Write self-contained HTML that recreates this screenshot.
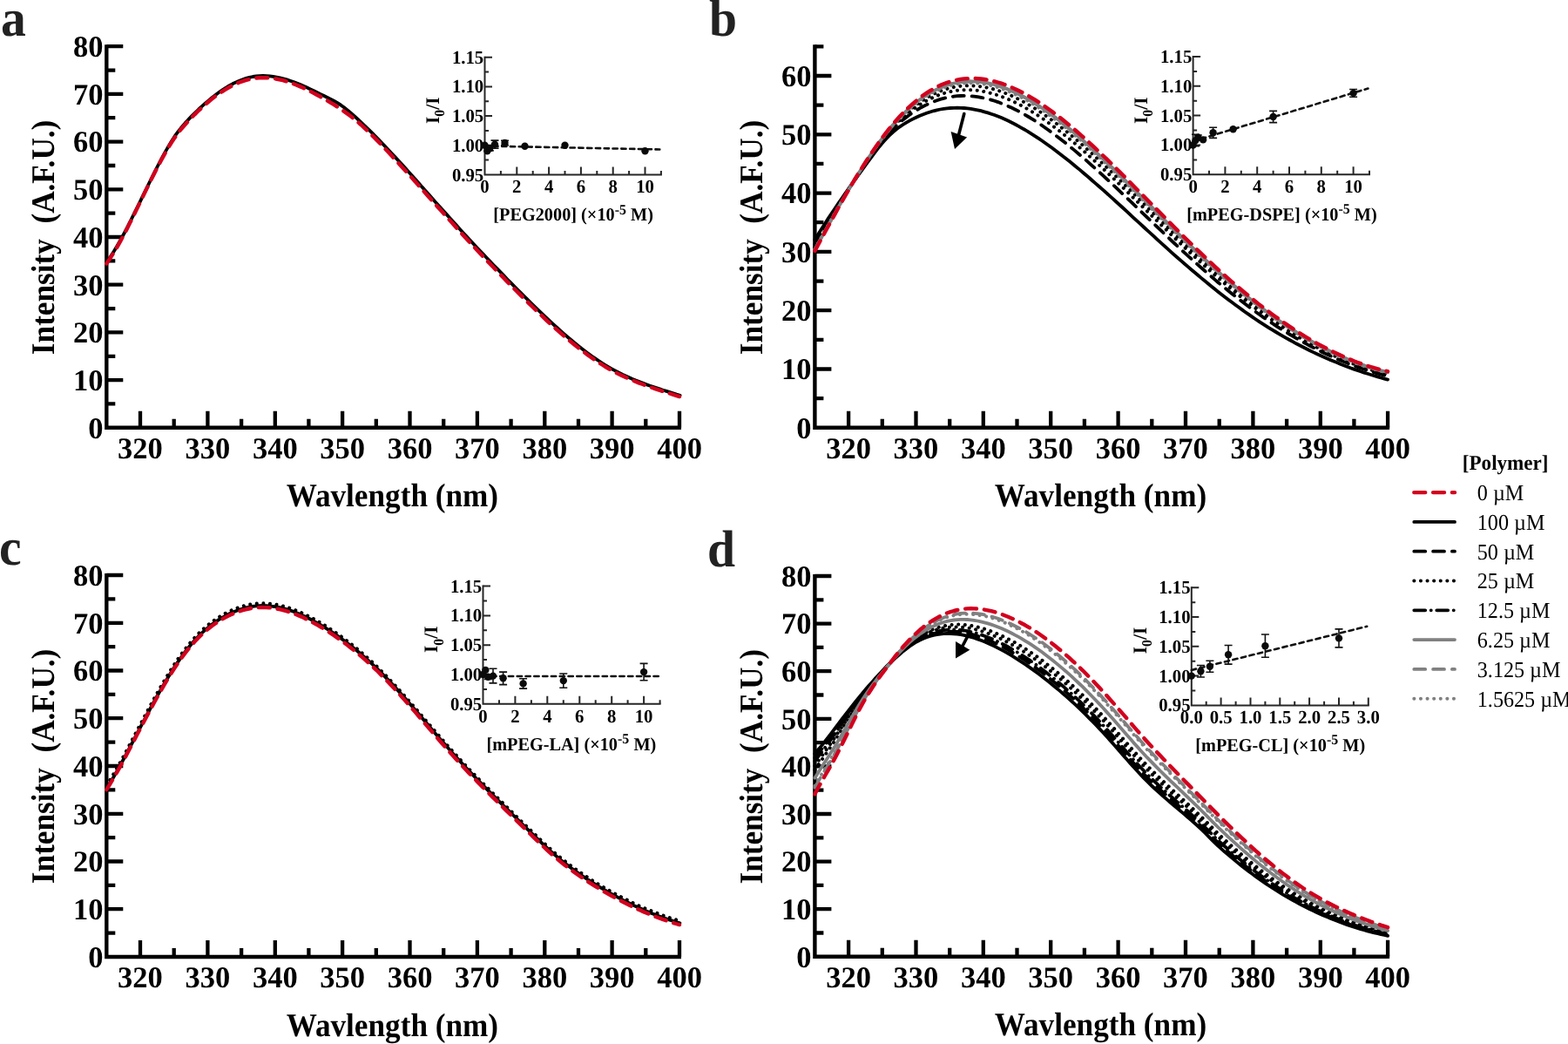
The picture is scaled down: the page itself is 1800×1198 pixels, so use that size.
<!DOCTYPE html>
<html><head><meta charset="utf-8"><style>
html,body{margin:0;padding:0;background:#fff;}
svg{display:block;}
text{font-family:'Liberation Serif', 'Times New Roman', serif;text-rendering:geometricPrecision;}
.tl{font-size:34.5px;font-weight:bold;fill:#000;}
.ti{font-size:37.8px;font-weight:bold;fill:#000;}
.let{font-size:60px;font-weight:bold;fill:#222;}
.il{font-size:21.5px;font-weight:bold;fill:#000;}
.it{font-size:21.1px;font-weight:bold;fill:#000;}
.lg{font-size:25.8px;fill:#000;}
</style></head><body>
<svg width="1800" height="1198" viewBox="0 0 1800 1198">
<rect width="1800" height="1198" fill="#fff"/>
<path d="M122.3,51.2 V490.8 H782.0" fill="none" stroke="#000" stroke-width="4.4" stroke-linejoin="miter"/>
<text transform="translate(118.50,502.60)" text-anchor="end" class="tl">0</text>
<text transform="translate(118.50,447.90)" text-anchor="end" class="tl">10</text>
<text transform="translate(118.50,393.20)" text-anchor="end" class="tl">20</text>
<text transform="translate(118.50,338.50)" text-anchor="end" class="tl">30</text>
<text transform="translate(118.50,283.80)" text-anchor="end" class="tl">40</text>
<text transform="translate(118.50,229.10)" text-anchor="end" class="tl">50</text>
<text transform="translate(118.50,174.40)" text-anchor="end" class="tl">60</text>
<text transform="translate(118.50,119.70)" text-anchor="end" class="tl">70</text>
<text transform="translate(118.50,65.00)" text-anchor="end" class="tl">80</text>
<text transform="translate(160.99,526.10)" text-anchor="middle" class="tl">320</text>
<text transform="translate(238.37,526.10)" text-anchor="middle" class="tl">330</text>
<text transform="translate(315.75,526.10)" text-anchor="middle" class="tl">340</text>
<text transform="translate(393.13,526.10)" text-anchor="middle" class="tl">350</text>
<text transform="translate(470.51,526.10)" text-anchor="middle" class="tl">360</text>
<text transform="translate(547.89,526.10)" text-anchor="middle" class="tl">370</text>
<text transform="translate(625.27,526.10)" text-anchor="middle" class="tl">380</text>
<text transform="translate(702.65,526.10)" text-anchor="middle" class="tl">390</text>
<text transform="translate(780.03,526.10)" text-anchor="middle" class="tl">400</text>
<path d="M122.3,463.4h10 M122.3,436.1h19 M122.3,408.8h10 M122.3,381.4h19 M122.3,354.1h10 M122.3,326.7h19 M122.3,299.4h10 M122.3,272.0h19 M122.3,244.7h10 M122.3,217.3h19 M122.3,190.0h10 M122.3,162.6h19 M122.3,135.2h10 M122.3,107.9h19 M122.3,80.6h10 M122.3,53.2h19 M161.0,490.8v-19 M199.7,490.8v-10 M238.4,490.8v-19 M277.1,490.8v-10 M315.8,490.8v-19 M354.4,490.8v-10 M393.1,490.8v-19 M431.8,490.8v-10 M470.5,490.8v-19 M509.2,490.8v-10 M547.9,490.8v-19 M586.6,490.8v-10 M625.3,490.8v-19 M664.0,490.8v-10 M702.6,490.8v-19 M741.3,490.8v-10 M780.0,490.8v-19" stroke="#000" stroke-width="4.3" fill="none"/>
<text transform="translate(450.36,581.40) scale(0.931,1.0)" text-anchor="middle" class="ti">Wavlength (nm)</text>
<text transform="translate(62.30,272.40) rotate(-90) scale(0.931,1.0)" text-anchor="middle" class="ti" xml:space="preserve">Intensity  (A.F.U.)</text>
<text transform="translate(1.00,40.90) scale(0.96,1.0)" class="let">a</text>
<path d="M122.3,301.4 L126.2,295.6 L130.1,289.5 L134.0,283.0 L137.9,276.1 L141.8,269.0 L145.7,261.6 L149.5,254.0 L153.4,246.2 L157.3,238.3 L161.2,230.4 L165.1,222.4 L169.0,214.4 L172.9,206.5 L176.8,198.7 L180.7,191.0 L184.6,183.6 L188.5,176.4 L192.4,169.6 L196.2,163.2 L200.1,157.2 L204.0,151.9 L207.9,147.0 L211.8,142.4 L215.7,138.2 L219.6,134.2 L223.5,130.3 L227.4,126.5 L231.3,122.9 L235.2,119.4 L239.1,116.1 L242.9,112.9 L246.8,109.9 L250.7,107.0 L254.6,104.3 L258.5,101.8 L262.4,99.5 L266.3,97.3 L270.2,95.4 L274.1,93.7 L278.0,92.2 L281.9,90.9 L285.8,89.9 L289.7,89.0 L293.5,88.5 L297.4,88.1 L301.3,88.0 L305.2,88.1 L309.1,88.4 L313.0,88.8 L316.9,89.5 L320.8,90.3 L324.7,91.3 L328.6,92.4 L332.5,93.7 L336.4,95.0 L340.2,96.5 L344.1,98.1 L348.0,99.8 L351.9,101.6 L355.8,103.4 L359.7,105.3 L363.6,107.2 L367.5,109.1 L371.4,111.0 L375.3,113.0 L379.2,114.9 L383.1,117.0 L386.9,119.2 L390.8,121.7 L394.7,124.6 L398.6,127.7 L402.5,131.0 L406.4,134.4 L410.3,138.0 L414.2,141.6 L418.1,145.3 L422.0,149.1 L425.9,152.9 L429.8,156.8 L433.7,160.8 L437.5,164.8 L441.4,168.9 L445.3,173.0 L449.2,177.2 L453.1,181.4 L457.0,185.6 L460.9,189.9 L464.8,194.1 L468.7,198.5 L472.6,202.8 L476.5,207.1 L480.4,211.5 L484.2,215.9 L488.1,220.2 L492.0,224.6 L495.9,229.0 L499.8,233.4 L503.7,237.7 L507.6,242.1 L511.5,246.4 L515.4,250.8 L519.3,255.1 L523.2,259.4 L527.1,263.7 L530.9,267.9 L534.8,272.1 L538.7,276.3 L542.6,280.5 L546.5,284.7 L550.4,288.8 L554.3,292.9 L558.2,297.0 L562.1,301.1 L566.0,305.2 L569.9,309.2 L573.8,313.2 L577.7,317.2 L581.5,321.2 L585.4,325.2 L589.3,329.1 L593.2,333.0 L597.1,336.9 L601.0,340.8 L604.9,344.7 L608.8,348.5 L612.7,352.3 L616.6,356.1 L620.5,359.9 L624.4,363.6 L628.2,367.2 L632.1,370.9 L636.0,374.5 L639.9,378.0 L643.8,381.5 L647.7,384.9 L651.6,388.2 L655.5,391.5 L659.4,394.7 L663.3,397.9 L667.2,401.0 L671.1,403.9 L674.9,406.9 L678.8,409.7 L682.7,412.4 L686.6,415.0 L690.5,417.6 L694.4,420.0 L698.3,422.4 L702.2,424.6 L706.1,426.7 L710.0,428.7 L713.9,430.7 L717.8,432.5 L721.7,434.3 L725.5,436.0 L729.4,437.6 L733.3,439.1 L737.2,440.6 L741.1,442.1 L745.0,443.5 L748.9,444.8 L752.8,446.1 L756.7,447.4 L760.6,448.7 L764.5,449.9 L768.4,451.1 L772.2,452.3 L776.1,453.6 L780.0,454.8" fill="none" stroke="#000" stroke-width="3.8" stroke-linecap="round" stroke-linejoin="round" stroke-width="5" transform="translate(0.6,-1)"/>
<path d="M122.3,302.4 L126.2,296.8 L130.1,290.7 L134.0,284.2 L137.9,277.3 L141.8,270.2 L145.7,262.7 L149.5,255.1 L153.4,247.3 L157.3,239.4 L161.2,231.4 L165.1,223.3 L169.0,215.4 L172.9,207.4 L176.8,199.7 L180.7,192.1 L184.6,184.7 L188.5,177.6 L192.4,170.8 L196.2,164.5 L200.1,158.6 L204.0,153.2 L207.9,148.2 L211.8,143.7 L215.7,139.4 L219.6,135.3 L223.5,131.3 L227.4,127.5 L231.3,123.9 L235.2,120.4 L239.1,117.0 L242.9,113.8 L246.8,110.8 L250.7,108.0 L254.6,105.3 L258.5,102.8 L262.4,100.5 L266.3,98.4 L270.2,96.5 L274.1,94.8 L278.0,93.4 L281.9,92.1 L285.8,91.1 L289.7,90.2 L293.5,89.6 L297.4,89.3 L301.3,89.1 L305.2,89.2 L309.1,89.4 L313.0,89.9 L316.9,90.5 L320.8,91.3 L324.7,92.2 L328.6,93.3 L332.5,94.6 L336.4,96.0 L340.2,97.5 L344.1,99.1 L348.0,100.8 L351.9,102.7 L355.8,104.6 L359.7,106.6 L363.6,108.7 L367.5,110.8 L371.4,113.0 L375.3,115.3 L379.2,117.6 L383.1,119.9 L386.9,122.4 L390.8,124.9 L394.7,127.6 L398.6,130.4 L402.5,133.3 L406.4,136.4 L410.3,139.6 L414.2,143.0 L418.1,146.6 L422.0,150.3 L425.9,154.1 L429.8,157.9 L433.7,161.9 L437.5,165.9 L441.4,170.0 L445.3,174.1 L449.2,178.3 L453.1,182.5 L457.0,186.7 L460.9,191.0 L464.8,195.2 L468.7,199.5 L472.6,203.9 L476.5,208.2 L480.4,212.6 L484.2,216.9 L488.1,221.3 L492.0,225.7 L495.9,230.0 L499.8,234.4 L503.7,238.8 L507.6,243.1 L511.5,247.5 L515.4,251.8 L519.3,256.1 L523.2,260.4 L527.1,264.7 L530.9,269.0 L534.8,273.2 L538.7,277.4 L542.6,281.6 L546.5,285.8 L550.4,289.9 L554.3,294.1 L558.2,298.2 L562.1,302.3 L566.0,306.3 L569.9,310.4 L573.8,314.4 L577.7,318.4 L581.5,322.4 L585.4,326.4 L589.3,330.3 L593.2,334.2 L597.1,338.1 L601.0,342.0 L604.9,345.8 L608.8,349.7 L612.7,353.5 L616.6,357.2 L620.5,360.9 L624.4,364.6 L628.2,368.3 L632.1,371.9 L636.0,375.4 L639.9,378.9 L643.8,382.4 L647.7,385.7 L651.6,389.1 L655.5,392.3 L659.4,395.5 L663.3,398.6 L667.2,401.6 L671.1,404.6 L674.9,407.5 L678.8,410.2 L682.7,412.9 L686.6,415.5 L690.5,418.0 L694.4,420.5 L698.3,422.8 L702.2,425.0 L706.1,427.1 L710.0,429.1 L713.9,431.0 L717.8,432.8 L721.7,434.5 L725.5,436.2 L729.4,437.8 L733.3,439.4 L737.2,440.8 L741.1,442.3 L745.0,443.7 L748.9,445.0 L752.8,446.3 L756.7,447.6 L760.6,448.9 L764.5,450.1 L768.4,451.4 L772.2,452.6 L776.1,453.8 L780.0,455.1" fill="none" stroke="#d2001e" stroke-width="4.4" stroke-linecap="round" stroke-linejoin="round" stroke-dasharray="12.9 8.9"/>
<path d="M935.4,51.3 V490.8 H1595.1" fill="none" stroke="#000" stroke-width="4.4" stroke-linejoin="miter"/>
<text transform="translate(931.60,502.60)" text-anchor="end" class="tl">0</text>
<text transform="translate(931.60,435.30)" text-anchor="end" class="tl">10</text>
<text transform="translate(931.60,368.00)" text-anchor="end" class="tl">20</text>
<text transform="translate(931.60,300.70)" text-anchor="end" class="tl">30</text>
<text transform="translate(931.60,233.40)" text-anchor="end" class="tl">40</text>
<text transform="translate(931.60,166.10)" text-anchor="end" class="tl">50</text>
<text transform="translate(931.60,98.80)" text-anchor="end" class="tl">60</text>
<text transform="translate(974.09,526.10)" text-anchor="middle" class="tl">320</text>
<text transform="translate(1051.47,526.10)" text-anchor="middle" class="tl">330</text>
<text transform="translate(1128.85,526.10)" text-anchor="middle" class="tl">340</text>
<text transform="translate(1206.23,526.10)" text-anchor="middle" class="tl">350</text>
<text transform="translate(1283.61,526.10)" text-anchor="middle" class="tl">360</text>
<text transform="translate(1360.99,526.10)" text-anchor="middle" class="tl">370</text>
<text transform="translate(1438.37,526.10)" text-anchor="middle" class="tl">380</text>
<text transform="translate(1515.75,526.10)" text-anchor="middle" class="tl">390</text>
<text transform="translate(1593.13,526.10)" text-anchor="middle" class="tl">400</text>
<path d="M935.4,457.1h10 M935.4,423.5h19 M935.4,389.9h10 M935.4,356.2h19 M935.4,322.6h10 M935.4,288.9h19 M935.4,255.2h10 M935.4,221.6h19 M935.4,187.9h10 M935.4,154.3h19 M935.4,120.6h10 M935.4,87.0h19 M935.4,53.3h10 M974.1,490.8v-19 M1012.8,490.8v-10 M1051.5,490.8v-19 M1090.2,490.8v-10 M1128.8,490.8v-19 M1167.5,490.8v-10 M1206.2,490.8v-19 M1244.9,490.8v-10 M1283.6,490.8v-19 M1322.3,490.8v-10 M1361.0,490.8v-19 M1399.7,490.8v-10 M1438.4,490.8v-19 M1477.1,490.8v-10 M1515.8,490.8v-19 M1554.4,490.8v-10 M1593.1,490.8v-19" stroke="#000" stroke-width="4.3" fill="none"/>
<text transform="translate(1263.47,581.40) scale(0.931,1.0)" text-anchor="middle" class="ti">Wavlength (nm)</text>
<text transform="translate(875.40,272.47) rotate(-90) scale(0.931,1.0)" text-anchor="middle" class="ti" xml:space="preserve">Intensity  (A.F.U.)</text>
<text transform="translate(814.00,41.10) scale(0.96,1.0)" class="let">b</text>
<path d="M935.4,275.0 L939.3,268.7 L943.2,262.5 L947.1,256.4 L951.0,250.4 L954.9,244.6 L958.8,238.8 L962.6,233.1 L966.5,227.5 L970.4,221.9 L974.3,216.4 L978.2,210.9 L982.1,205.4 L986.0,200.0 L989.9,194.6 L993.8,189.1 L997.7,183.8 L1001.6,178.5 L1005.5,173.4 L1009.3,168.4 L1013.2,163.8 L1017.1,159.4 L1021.0,155.4 L1024.9,151.8 L1028.8,148.6 L1032.7,145.6 L1036.6,143.0 L1040.5,140.6 L1044.4,138.4 L1048.3,136.4 L1052.2,134.5 L1056.0,132.8 L1059.9,131.2 L1063.8,129.8 L1067.7,128.5 L1071.6,127.3 L1075.5,126.3 L1079.4,125.5 L1083.3,124.8 L1087.2,124.3 L1091.1,124.0 L1095.0,123.8 L1098.9,123.7 L1102.8,123.8 L1106.6,124.0 L1110.5,124.4 L1114.4,124.9 L1118.3,125.6 L1122.2,126.3 L1126.1,127.2 L1130.0,128.3 L1133.9,129.4 L1137.8,130.7 L1141.7,132.0 L1145.6,133.5 L1149.5,135.1 L1153.3,136.8 L1157.2,138.6 L1161.1,140.5 L1165.0,142.5 L1168.9,144.6 L1172.8,146.8 L1176.7,149.0 L1180.6,151.4 L1184.5,153.8 L1188.4,156.3 L1192.3,158.9 L1196.2,161.5 L1200.0,164.2 L1203.9,167.0 L1207.8,169.8 L1211.7,172.7 L1215.6,175.7 L1219.5,178.7 L1223.4,181.7 L1227.3,184.8 L1231.2,188.0 L1235.1,191.2 L1239.0,194.4 L1242.9,197.7 L1246.8,201.0 L1250.6,204.3 L1254.5,207.7 L1258.4,211.1 L1262.3,214.5 L1266.2,217.9 L1270.1,221.4 L1274.0,224.9 L1277.9,228.4 L1281.8,232.0 L1285.7,235.5 L1289.6,239.0 L1293.5,242.6 L1297.3,246.2 L1301.2,249.8 L1305.1,253.3 L1309.0,256.9 L1312.9,260.5 L1316.8,264.1 L1320.7,267.6 L1324.6,271.2 L1328.5,274.8 L1332.4,278.3 L1336.3,281.8 L1340.2,285.3 L1344.0,288.8 L1347.9,292.3 L1351.8,295.7 L1355.7,299.1 L1359.6,302.5 L1363.5,305.9 L1367.4,309.2 L1371.3,312.5 L1375.2,315.8 L1379.1,319.1 L1383.0,322.3 L1386.9,325.5 L1390.8,328.7 L1394.6,331.8 L1398.5,334.9 L1402.4,337.9 L1406.3,340.9 L1410.2,343.9 L1414.1,346.8 L1418.0,349.7 L1421.9,352.6 L1425.8,355.4 L1429.7,358.2 L1433.6,360.9 L1437.5,363.6 L1441.3,366.2 L1445.2,368.8 L1449.1,371.3 L1453.0,373.8 L1456.9,376.3 L1460.8,378.7 L1464.7,381.0 L1468.6,383.3 L1472.5,385.6 L1476.4,387.8 L1480.3,390.0 L1484.2,392.2 L1488.0,394.3 L1491.9,396.3 L1495.8,398.3 L1499.7,400.3 L1503.6,402.2 L1507.5,404.1 L1511.4,405.9 L1515.3,407.7 L1519.2,409.5 L1523.1,411.2 L1527.0,412.9 L1530.9,414.5 L1534.8,416.1 L1538.6,417.7 L1542.5,419.2 L1546.4,420.7 L1550.3,422.2 L1554.2,423.6 L1558.1,424.9 L1562.0,426.3 L1565.9,427.6 L1569.8,428.8 L1573.7,430.0 L1577.6,431.2 L1581.5,432.4 L1585.3,433.5 L1589.2,434.6 L1593.1,435.6" fill="none" stroke="#000" stroke-width="3.8" stroke-linecap="round" stroke-linejoin="round"/>
<path d="M935.4,280.4 L939.3,273.7 L943.2,267.1 L947.1,260.6 L951.0,254.1 L954.9,247.7 L958.8,241.4 L962.6,235.2 L966.5,229.0 L970.4,222.9 L974.3,216.9 L978.2,211.0 L982.1,205.1 L986.0,199.2 L989.9,193.4 L993.8,187.7 L997.7,182.1 L1001.6,176.6 L1005.5,171.2 L1009.3,166.1 L1013.2,161.1 L1017.1,156.5 L1021.0,152.1 L1024.9,148.0 L1028.8,144.2 L1032.7,140.7 L1036.6,137.4 L1040.5,134.4 L1044.4,131.5 L1048.3,128.9 L1052.2,126.4 L1056.0,124.1 L1059.9,122.0 L1063.8,120.1 L1067.7,118.3 L1071.6,116.6 L1075.5,115.2 L1079.4,113.9 L1083.3,112.9 L1087.2,111.9 L1091.1,111.2 L1095.0,110.6 L1098.9,110.2 L1102.8,110.0 L1106.6,109.9 L1110.5,110.0 L1114.4,110.2 L1118.3,110.6 L1122.2,111.1 L1126.1,111.8 L1130.0,112.6 L1133.9,113.5 L1137.8,114.6 L1141.7,115.8 L1145.6,117.1 L1149.5,118.6 L1153.3,120.1 L1157.2,121.8 L1161.1,123.6 L1165.0,125.5 L1168.9,127.4 L1172.8,129.5 L1176.7,131.7 L1180.6,134.0 L1184.5,136.4 L1188.4,138.8 L1192.3,141.4 L1196.2,144.0 L1200.0,146.7 L1203.9,149.5 L1207.8,152.3 L1211.7,155.2 L1215.6,158.2 L1219.5,161.2 L1223.4,164.3 L1227.3,167.4 L1231.2,170.6 L1235.1,173.9 L1239.0,177.2 L1242.9,180.5 L1246.8,183.9 L1250.6,187.3 L1254.5,190.8 L1258.4,194.3 L1262.3,197.8 L1266.2,201.4 L1270.1,205.0 L1274.0,208.6 L1277.9,212.2 L1281.8,215.9 L1285.7,219.6 L1289.6,223.3 L1293.5,227.0 L1297.3,230.7 L1301.2,234.4 L1305.1,238.1 L1309.0,241.9 L1312.9,245.6 L1316.8,249.4 L1320.7,253.1 L1324.6,256.8 L1328.5,260.5 L1332.4,264.2 L1336.3,267.9 L1340.2,271.6 L1344.0,275.3 L1347.9,279.0 L1351.8,282.6 L1355.7,286.2 L1359.6,289.8 L1363.5,293.4 L1367.4,296.9 L1371.3,300.4 L1375.2,303.9 L1379.1,307.4 L1383.0,310.8 L1386.9,314.2 L1390.8,317.5 L1394.6,320.9 L1398.5,324.2 L1402.4,327.4 L1406.3,330.6 L1410.2,333.8 L1414.1,336.9 L1418.0,340.0 L1421.9,343.1 L1425.8,346.1 L1429.7,349.1 L1433.6,352.0 L1437.5,354.9 L1441.3,357.7 L1445.2,360.5 L1449.1,363.3 L1453.0,365.9 L1456.9,368.6 L1460.8,371.2 L1464.7,373.8 L1468.6,376.3 L1472.5,378.7 L1476.4,381.2 L1480.3,383.5 L1484.2,385.9 L1488.0,388.1 L1491.9,390.4 L1495.8,392.6 L1499.7,394.7 L1503.6,396.8 L1507.5,398.8 L1511.4,400.8 L1515.3,402.8 L1519.2,404.7 L1523.1,406.5 L1527.0,408.3 L1530.9,410.1 L1534.8,411.8 L1538.6,413.5 L1542.5,415.1 L1546.4,416.6 L1550.3,418.2 L1554.2,419.6 L1558.1,421.1 L1562.0,422.4 L1565.9,423.8 L1569.8,425.0 L1573.7,426.3 L1577.6,427.4 L1581.5,428.6 L1585.3,429.6 L1589.2,430.7 L1593.1,431.7" fill="none" stroke="#000" stroke-width="3.8" stroke-linecap="round" stroke-linejoin="round" stroke-dasharray="12.9 8.9"/>
<path d="M935.4,283.0 L939.3,276.1 L943.2,269.3 L947.1,262.5 L951.0,255.9 L954.9,249.2 L958.8,242.7 L962.6,236.2 L966.5,229.8 L970.4,223.4 L974.3,217.2 L978.2,211.0 L982.1,204.9 L986.0,198.8 L989.9,192.9 L993.8,187.0 L997.7,181.3 L1001.6,175.7 L1005.5,170.2 L1009.3,164.9 L1013.2,159.9 L1017.1,155.0 L1021.0,150.5 L1024.9,146.2 L1028.8,142.1 L1032.7,138.3 L1036.6,134.8 L1040.5,131.4 L1044.4,128.3 L1048.3,125.4 L1052.2,122.6 L1056.0,120.0 L1059.9,117.6 L1063.8,115.4 L1067.7,113.4 L1071.6,111.6 L1075.5,109.9 L1079.4,108.4 L1083.3,107.1 L1087.2,106.0 L1091.1,105.1 L1095.0,104.4 L1098.9,103.8 L1102.8,103.4 L1106.6,103.2 L1110.5,103.1 L1114.4,103.2 L1118.3,103.5 L1122.2,103.9 L1126.1,104.4 L1130.0,105.1 L1133.9,106.0 L1137.8,107.0 L1141.7,108.1 L1145.6,109.3 L1149.5,110.7 L1153.3,112.2 L1157.2,113.8 L1161.1,115.5 L1165.0,117.3 L1168.9,119.3 L1172.8,121.3 L1176.7,123.5 L1180.6,125.7 L1184.5,128.1 L1188.4,130.5 L1192.3,133.0 L1196.2,135.6 L1200.0,138.3 L1203.9,141.1 L1207.8,143.9 L1211.7,146.8 L1215.6,149.8 L1219.5,152.9 L1223.4,156.0 L1227.3,159.1 L1231.2,162.3 L1235.1,165.6 L1239.0,168.9 L1242.9,172.3 L1246.8,175.7 L1250.6,179.2 L1254.5,182.7 L1258.4,186.3 L1262.3,189.9 L1266.2,193.5 L1270.1,197.1 L1274.0,200.8 L1277.9,204.5 L1281.8,208.2 L1285.7,212.0 L1289.6,215.7 L1293.5,219.5 L1297.3,223.3 L1301.2,227.1 L1305.1,230.9 L1309.0,234.7 L1312.9,238.5 L1316.8,242.3 L1320.7,246.2 L1324.6,250.0 L1328.5,253.8 L1332.4,257.6 L1336.3,261.3 L1340.2,265.1 L1344.0,268.9 L1347.9,272.6 L1351.8,276.3 L1355.7,280.0 L1359.6,283.7 L1363.5,287.4 L1367.4,291.0 L1371.3,294.6 L1375.2,298.2 L1379.1,301.8 L1383.0,305.3 L1386.9,308.8 L1390.8,312.2 L1394.6,315.7 L1398.5,319.1 L1402.4,322.4 L1406.3,325.7 L1410.2,329.0 L1414.1,332.2 L1418.0,335.4 L1421.9,338.6 L1425.8,341.7 L1429.7,344.8 L1433.6,347.8 L1437.5,350.8 L1441.3,353.7 L1445.2,356.6 L1449.1,359.4 L1453.0,362.2 L1456.9,365.0 L1460.8,367.7 L1464.7,370.3 L1468.6,372.9 L1472.5,375.5 L1476.4,378.0 L1480.3,380.4 L1484.2,382.9 L1488.0,385.2 L1491.9,387.5 L1495.8,389.8 L1499.7,392.0 L1503.6,394.2 L1507.5,396.3 L1511.4,398.4 L1515.3,400.4 L1519.2,402.4 L1523.1,404.3 L1527.0,406.2 L1530.9,408.0 L1534.8,409.7 L1538.6,411.4 L1542.5,413.1 L1546.4,414.7 L1550.3,416.3 L1554.2,417.8 L1558.1,419.2 L1562.0,420.6 L1565.9,421.9 L1569.8,423.2 L1573.7,424.5 L1577.6,425.6 L1581.5,426.8 L1585.3,427.8 L1589.2,428.8 L1593.1,429.8" fill="none" stroke="#000" stroke-width="4.0" stroke-linecap="round" stroke-linejoin="round" stroke-dasharray="0.1 7.5"/>
<path d="M935.4,284.8 L939.3,277.8 L943.2,270.8 L947.1,263.9 L951.0,257.1 L954.9,250.3 L958.8,243.6 L962.6,236.9 L966.5,230.3 L970.4,223.8 L974.3,217.4 L978.2,211.0 L982.1,204.8 L986.0,198.6 L989.9,192.5 L993.8,186.6 L997.7,180.7 L1001.6,175.0 L1005.5,169.5 L1009.3,164.1 L1013.2,159.0 L1017.1,154.0 L1021.0,149.3 L1024.9,144.9 L1028.8,140.7 L1032.7,136.7 L1036.6,132.9 L1040.5,129.4 L1044.4,126.0 L1048.3,122.9 L1052.2,119.9 L1056.0,117.2 L1059.9,114.6 L1063.8,112.2 L1067.7,110.0 L1071.6,108.0 L1075.5,106.2 L1079.4,104.6 L1083.3,103.1 L1087.2,101.9 L1091.1,100.9 L1095.0,100.0 L1098.9,99.3 L1102.8,98.8 L1106.6,98.5 L1110.5,98.3 L1114.4,98.3 L1118.3,98.5 L1122.2,98.8 L1126.1,99.3 L1130.0,99.9 L1133.9,100.7 L1137.8,101.6 L1141.7,102.6 L1145.6,103.8 L1149.5,105.1 L1153.3,106.6 L1157.2,108.2 L1161.1,109.8 L1165.0,111.7 L1168.9,113.6 L1172.8,115.6 L1176.7,117.7 L1180.6,120.0 L1184.5,122.3 L1188.4,124.7 L1192.3,127.2 L1196.2,129.8 L1200.0,132.5 L1203.9,135.2 L1207.8,138.1 L1211.7,141.0 L1215.6,144.0 L1219.5,147.0 L1223.4,150.1 L1227.3,153.3 L1231.2,156.6 L1235.1,159.9 L1239.0,163.2 L1242.9,166.6 L1246.8,170.1 L1250.6,173.6 L1254.5,177.1 L1258.4,180.7 L1262.3,184.3 L1266.2,188.0 L1270.1,191.6 L1274.0,195.4 L1277.9,199.1 L1281.8,202.9 L1285.7,206.7 L1289.6,210.5 L1293.5,214.3 L1297.3,218.1 L1301.2,222.0 L1305.1,225.8 L1309.0,229.7 L1312.9,233.6 L1316.8,237.4 L1320.7,241.3 L1324.6,245.2 L1328.5,249.0 L1332.4,252.9 L1336.3,256.7 L1340.2,260.5 L1344.0,264.4 L1347.9,268.2 L1351.8,271.9 L1355.7,275.7 L1359.6,279.5 L1363.5,283.2 L1367.4,286.9 L1371.3,290.6 L1375.2,294.2 L1379.1,297.9 L1383.0,301.5 L1386.9,305.0 L1390.8,308.5 L1394.6,312.0 L1398.5,315.5 L1402.4,318.9 L1406.3,322.3 L1410.2,325.6 L1414.1,328.9 L1418.0,332.2 L1421.9,335.4 L1425.8,338.6 L1429.7,341.7 L1433.6,344.8 L1437.5,347.9 L1441.3,350.9 L1445.2,353.8 L1449.1,356.7 L1453.0,359.6 L1456.9,362.4 L1460.8,365.2 L1464.7,367.9 L1468.6,370.6 L1472.5,373.2 L1476.4,375.8 L1480.3,378.3 L1484.2,380.8 L1488.0,383.2 L1491.9,385.6 L1495.8,387.9 L1499.7,390.2 L1503.6,392.4 L1507.5,394.6 L1511.4,396.7 L1515.3,398.8 L1519.2,400.8 L1523.1,402.7 L1527.0,404.6 L1530.9,406.5 L1534.8,408.3 L1538.6,410.0 L1542.5,411.7 L1546.4,413.4 L1550.3,414.9 L1554.2,416.5 L1558.1,417.9 L1562.0,419.3 L1565.9,420.7 L1569.8,422.0 L1573.7,423.2 L1577.6,424.4 L1581.5,425.5 L1585.3,426.5 L1589.2,427.5 L1593.1,428.5" fill="none" stroke="#000" stroke-width="4.0" stroke-linecap="round" stroke-linejoin="round" stroke-dasharray="0.1 7.5"/>
<path d="M935.4,286.0 L939.3,278.9 L943.2,271.8 L947.1,264.8 L951.0,257.9 L954.9,251.0 L958.8,244.1 L962.6,237.3 L966.5,230.6 L970.4,224.0 L974.3,217.5 L978.2,211.0 L982.1,204.7 L986.0,198.4 L989.9,192.3 L993.8,186.3 L997.7,180.4 L1001.6,174.6 L1005.5,169.0 L1009.3,163.6 L1013.2,158.4 L1017.1,153.4 L1021.0,148.6 L1024.9,144.1 L1028.8,139.7 L1032.7,135.6 L1036.6,131.7 L1040.5,128.0 L1044.4,124.5 L1048.3,121.3 L1052.2,118.2 L1056.0,115.3 L1059.9,112.6 L1063.8,110.1 L1067.7,107.8 L1071.6,105.7 L1075.5,103.8 L1079.4,102.1 L1083.3,100.6 L1087.2,99.3 L1091.1,98.1 L1095.0,97.2 L1098.9,96.4 L1102.8,95.9 L1106.6,95.5 L1110.5,95.2 L1114.4,95.2 L1118.3,95.3 L1122.2,95.6 L1126.1,96.0 L1130.0,96.6 L1133.9,97.3 L1137.8,98.2 L1141.7,99.2 L1145.6,100.3 L1149.5,101.6 L1153.3,103.0 L1157.2,104.6 L1161.1,106.2 L1165.0,108.0 L1168.9,109.9 L1172.8,111.9 L1176.7,114.0 L1180.6,116.2 L1184.5,118.5 L1188.4,121.0 L1192.3,123.5 L1196.2,126.0 L1200.0,128.7 L1203.9,131.5 L1207.8,134.3 L1211.7,137.2 L1215.6,140.2 L1219.5,143.3 L1223.4,146.4 L1227.3,149.6 L1231.2,152.8 L1235.1,156.1 L1239.0,159.5 L1242.9,162.9 L1246.8,166.4 L1250.6,169.9 L1254.5,173.5 L1258.4,177.1 L1262.3,180.7 L1266.2,184.4 L1270.1,188.1 L1274.0,191.9 L1277.9,195.6 L1281.8,199.4 L1285.7,203.3 L1289.6,207.1 L1293.5,210.9 L1297.3,214.8 L1301.2,218.7 L1305.1,222.6 L1309.0,226.5 L1312.9,230.4 L1316.8,234.3 L1320.7,238.2 L1324.6,242.1 L1328.5,246.0 L1332.4,249.9 L1336.3,253.7 L1340.2,257.6 L1344.0,261.5 L1347.9,265.3 L1351.8,269.1 L1355.7,272.9 L1359.6,276.7 L1363.5,280.5 L1367.4,284.3 L1371.3,288.0 L1375.2,291.7 L1379.1,295.3 L1383.0,299.0 L1386.9,302.6 L1390.8,306.2 L1394.6,309.7 L1398.5,313.2 L1402.4,316.7 L1406.3,320.1 L1410.2,323.5 L1414.1,326.8 L1418.0,330.1 L1421.9,333.4 L1425.8,336.6 L1429.7,339.8 L1433.6,342.9 L1437.5,346.0 L1441.3,349.0 L1445.2,352.0 L1449.1,355.0 L1453.0,357.9 L1456.9,360.8 L1460.8,363.6 L1464.7,366.3 L1468.6,369.0 L1472.5,371.7 L1476.4,374.3 L1480.3,376.9 L1484.2,379.4 L1488.0,381.9 L1491.9,384.3 L1495.8,386.7 L1499.7,389.0 L1503.6,391.2 L1507.5,393.4 L1511.4,395.6 L1515.3,397.7 L1519.2,399.7 L1523.1,401.7 L1527.0,403.7 L1530.9,405.5 L1534.8,407.4 L1538.6,409.1 L1542.5,410.8 L1546.4,412.5 L1550.3,414.1 L1554.2,415.6 L1558.1,417.1 L1562.0,418.5 L1565.9,419.9 L1569.8,421.1 L1573.7,422.4 L1577.6,423.6 L1581.5,424.7 L1585.3,425.7 L1589.2,426.7 L1593.1,427.6" fill="none" stroke="#808080" stroke-width="4.0" stroke-linecap="round" stroke-linejoin="round" stroke-dasharray="0.1 7.5"/>
<path d="M935.4,286.6 L939.3,279.5 L943.2,272.4 L947.1,265.3 L951.0,258.3 L954.9,251.3 L958.8,244.4 L962.6,237.6 L966.5,230.8 L970.4,224.1 L974.3,217.5 L978.2,211.0 L982.1,204.6 L986.0,198.3 L989.9,192.2 L993.8,186.1 L997.7,180.2 L1001.6,174.4 L1005.5,168.8 L1009.3,163.3 L1013.2,158.1 L1017.1,153.0 L1021.0,148.2 L1024.9,143.6 L1028.8,139.2 L1032.7,135.0 L1036.6,131.1 L1040.5,127.3 L1044.4,123.7 L1048.3,120.4 L1052.2,117.2 L1056.0,114.3 L1059.9,111.5 L1063.8,109.0 L1067.7,106.6 L1071.6,104.4 L1075.5,102.5 L1079.4,100.7 L1083.3,99.1 L1087.2,97.8 L1091.1,96.6 L1095.0,95.6 L1098.9,94.8 L1102.8,94.2 L1106.6,93.8 L1110.5,93.5 L1114.4,93.4 L1118.3,93.5 L1122.2,93.7 L1126.1,94.1 L1130.0,94.7 L1133.9,95.4 L1137.8,96.2 L1141.7,97.2 L1145.6,98.4 L1149.5,99.6 L1153.3,101.0 L1157.2,102.6 L1161.1,104.2 L1165.0,106.0 L1168.9,107.9 L1172.8,109.8 L1176.7,112.0 L1180.6,114.2 L1184.5,116.5 L1188.4,118.9 L1192.3,121.4 L1196.2,124.0 L1200.0,126.6 L1203.9,129.4 L1207.8,132.2 L1211.7,135.1 L1215.6,138.1 L1219.5,141.2 L1223.4,144.3 L1227.3,147.5 L1231.2,150.8 L1235.1,154.1 L1239.0,157.5 L1242.9,160.9 L1246.8,164.4 L1250.6,167.9 L1254.5,171.5 L1258.4,175.1 L1262.3,178.7 L1266.2,182.4 L1270.1,186.2 L1274.0,189.9 L1277.9,193.7 L1281.8,197.5 L1285.7,201.4 L1289.6,205.2 L1293.5,209.1 L1297.3,213.0 L1301.2,216.9 L1305.1,220.8 L1309.0,224.7 L1312.9,228.6 L1316.8,232.5 L1320.7,236.4 L1324.6,240.4 L1328.5,244.3 L1332.4,248.2 L1336.3,252.1 L1340.2,256.0 L1344.0,259.9 L1347.9,263.7 L1351.8,267.6 L1355.7,271.4 L1359.6,275.2 L1363.5,279.0 L1367.4,282.8 L1371.3,286.5 L1375.2,290.3 L1379.1,293.9 L1383.0,297.6 L1386.9,301.2 L1390.8,304.8 L1394.6,308.4 L1398.5,311.9 L1402.4,315.4 L1406.3,318.9 L1410.2,322.3 L1414.1,325.6 L1418.0,329.0 L1421.9,332.3 L1425.8,335.5 L1429.7,338.7 L1433.6,341.9 L1437.5,345.0 L1441.3,348.0 L1445.2,351.1 L1449.1,354.0 L1453.0,357.0 L1456.9,359.8 L1460.8,362.7 L1464.7,365.5 L1468.6,368.2 L1472.5,370.9 L1476.4,373.5 L1480.3,376.1 L1484.2,378.7 L1488.0,381.2 L1491.9,383.6 L1495.8,386.0 L1499.7,388.3 L1503.6,390.6 L1507.5,392.8 L1511.4,395.0 L1515.3,397.1 L1519.2,399.2 L1523.1,401.2 L1527.0,403.1 L1530.9,405.0 L1534.8,406.8 L1538.6,408.6 L1542.5,410.3 L1546.4,412.0 L1550.3,413.6 L1554.2,415.1 L1558.1,416.6 L1562.0,418.0 L1565.9,419.4 L1569.8,420.7 L1573.7,421.9 L1577.6,423.1 L1581.5,424.2 L1585.3,425.3 L1589.2,426.2 L1593.1,427.2" fill="none" stroke="#808080" stroke-width="3.8" stroke-linecap="round" stroke-linejoin="round" stroke-dasharray="12.9 8.9"/>
<path d="M935.4,286.6 L939.3,279.5 L943.2,272.4 L947.1,265.3 L951.0,258.3 L954.9,251.3 L958.8,244.4 L962.6,237.6 L966.5,230.8 L970.4,224.1 L974.3,217.5 L978.2,211.0 L982.1,204.6 L986.0,198.3 L989.9,192.2 L993.8,186.1 L997.7,180.2 L1001.6,174.4 L1005.5,168.8 L1009.3,163.3 L1013.2,158.1 L1017.1,153.0 L1021.0,148.2 L1024.9,143.6 L1028.8,139.2 L1032.7,135.0 L1036.6,131.1 L1040.5,127.3 L1044.4,123.7 L1048.3,120.4 L1052.2,117.2 L1056.0,114.3 L1059.9,111.5 L1063.8,109.0 L1067.7,106.6 L1071.6,104.4 L1075.5,102.5 L1079.4,100.7 L1083.3,99.1 L1087.2,97.8 L1091.1,96.6 L1095.0,95.6 L1098.9,94.8 L1102.8,94.2 L1106.6,93.8 L1110.5,93.5 L1114.4,93.4 L1118.3,93.5 L1122.2,93.7 L1126.1,94.1 L1130.0,94.7 L1133.9,95.4 L1137.8,96.2 L1141.7,97.2 L1145.6,98.4 L1149.5,99.6 L1153.3,101.0 L1157.2,102.6 L1161.1,104.2 L1165.0,106.0 L1168.9,107.9 L1172.8,109.8 L1176.7,112.0 L1180.6,114.2 L1184.5,116.5 L1188.4,118.9 L1192.3,121.4 L1196.2,124.0 L1200.0,126.6 L1203.9,129.4 L1207.8,132.2 L1211.7,135.1 L1215.6,138.1 L1219.5,141.2 L1223.4,144.3 L1227.3,147.5 L1231.2,150.8 L1235.1,154.1 L1239.0,157.5 L1242.9,160.9 L1246.8,164.4 L1250.6,167.9 L1254.5,171.5 L1258.4,175.1 L1262.3,178.7 L1266.2,182.4 L1270.1,186.2 L1274.0,189.9 L1277.9,193.7 L1281.8,197.5 L1285.7,201.4 L1289.6,205.2 L1293.5,209.1 L1297.3,213.0 L1301.2,216.9 L1305.1,220.8 L1309.0,224.7 L1312.9,228.6 L1316.8,232.5 L1320.7,236.4 L1324.6,240.4 L1328.5,244.3 L1332.4,248.2 L1336.3,252.1 L1340.2,256.0 L1344.0,259.9 L1347.9,263.7 L1351.8,267.6 L1355.7,271.4 L1359.6,275.2 L1363.5,279.0 L1367.4,282.8 L1371.3,286.5 L1375.2,290.3 L1379.1,293.9 L1383.0,297.6 L1386.9,301.2 L1390.8,304.8 L1394.6,308.4 L1398.5,311.9 L1402.4,315.4 L1406.3,318.9 L1410.2,322.3 L1414.1,325.6 L1418.0,329.0 L1421.9,332.3 L1425.8,335.5 L1429.7,338.7 L1433.6,341.9 L1437.5,345.0 L1441.3,348.0 L1445.2,351.1 L1449.1,354.0 L1453.0,357.0 L1456.9,359.8 L1460.8,362.7 L1464.7,365.5 L1468.6,368.2 L1472.5,370.9 L1476.4,373.5 L1480.3,376.1 L1484.2,378.7 L1488.0,381.2 L1491.9,383.6 L1495.8,386.0 L1499.7,388.3 L1503.6,390.6 L1507.5,392.8 L1511.4,395.0 L1515.3,397.1 L1519.2,399.2 L1523.1,401.2 L1527.0,403.1 L1530.9,405.0 L1534.8,406.8 L1538.6,408.6 L1542.5,410.3 L1546.4,412.0 L1550.3,413.6 L1554.2,415.1 L1558.1,416.6 L1562.0,418.0 L1565.9,419.4 L1569.8,420.7 L1573.7,421.9 L1577.6,423.1 L1581.5,424.2 L1585.3,425.3 L1589.2,426.2 L1593.1,427.2" fill="none" stroke="#808080" stroke-width="3.8" stroke-linecap="round" stroke-linejoin="round"/>
<path d="M935.4,287.9 L939.3,280.7 L943.2,273.5 L947.1,266.3 L951.0,259.2 L954.9,252.1 L958.8,245.1 L962.6,238.1 L966.5,231.2 L970.4,224.4 L974.3,217.7 L978.2,211.0 L982.1,204.5 L986.0,198.1 L989.9,191.9 L993.8,185.8 L997.7,179.8 L1001.6,173.9 L1005.5,168.3 L1009.3,162.8 L1013.2,157.5 L1017.1,152.3 L1021.0,147.4 L1024.9,142.7 L1028.8,138.2 L1032.7,133.8 L1036.6,129.7 L1040.5,125.8 L1044.4,122.1 L1048.3,118.6 L1052.2,115.3 L1056.0,112.2 L1059.9,109.3 L1063.8,106.6 L1067.7,104.2 L1071.6,101.9 L1075.5,99.8 L1079.4,97.9 L1083.3,96.3 L1087.2,94.8 L1091.1,93.6 L1095.0,92.5 L1098.9,91.6 L1102.8,90.9 L1106.6,90.4 L1110.5,90.1 L1114.4,89.9 L1118.3,89.9 L1122.2,90.1 L1126.1,90.5 L1130.0,91.0 L1133.9,91.6 L1137.8,92.4 L1141.7,93.4 L1145.6,94.5 L1149.5,95.7 L1153.3,97.0 L1157.2,98.5 L1161.1,100.2 L1165.0,101.9 L1168.9,103.8 L1172.8,105.7 L1176.7,107.8 L1180.6,110.0 L1184.5,112.3 L1188.4,114.7 L1192.3,117.2 L1196.2,119.8 L1200.0,122.5 L1203.9,125.2 L1207.8,128.0 L1211.7,131.0 L1215.6,134.0 L1219.5,137.0 L1223.4,140.2 L1227.3,143.4 L1231.2,146.6 L1235.1,150.0 L1239.0,153.4 L1242.9,156.8 L1246.8,160.3 L1250.6,163.8 L1254.5,167.4 L1258.4,171.1 L1262.3,174.8 L1266.2,178.5 L1270.1,182.2 L1274.0,186.0 L1277.9,189.8 L1281.8,193.7 L1285.7,197.6 L1289.6,201.5 L1293.5,205.4 L1297.3,209.3 L1301.2,213.2 L1305.1,217.2 L1309.0,221.1 L1312.9,225.1 L1316.8,229.0 L1320.7,233.0 L1324.6,236.9 L1328.5,240.9 L1332.4,244.8 L1336.3,248.8 L1340.2,252.7 L1344.0,256.6 L1347.9,260.5 L1351.8,264.4 L1355.7,268.3 L1359.6,272.2 L1363.5,276.0 L1367.4,279.8 L1371.3,283.6 L1375.2,287.4 L1379.1,291.2 L1383.0,294.9 L1386.9,298.5 L1390.8,302.2 L1394.6,305.8 L1398.5,309.4 L1402.4,312.9 L1406.3,316.4 L1410.2,319.9 L1414.1,323.3 L1418.0,326.7 L1421.9,330.0 L1425.8,333.3 L1429.7,336.5 L1433.6,339.7 L1437.5,342.9 L1441.3,346.0 L1445.2,349.1 L1449.1,352.1 L1453.0,355.1 L1456.9,358.0 L1460.8,360.9 L1464.7,363.7 L1468.6,366.5 L1472.5,369.3 L1476.4,371.9 L1480.3,374.6 L1484.2,377.2 L1488.0,379.7 L1491.9,382.2 L1495.8,384.6 L1499.7,387.0 L1503.6,389.3 L1507.5,391.6 L1511.4,393.8 L1515.3,395.9 L1519.2,398.0 L1523.1,400.0 L1527.0,402.0 L1530.9,403.9 L1534.8,405.8 L1538.6,407.6 L1542.5,409.4 L1546.4,411.0 L1550.3,412.6 L1554.2,414.2 L1558.1,415.7 L1562.0,417.1 L1565.9,418.5 L1569.8,419.8 L1573.7,421.0 L1577.6,422.2 L1581.5,423.3 L1585.3,424.3 L1589.2,425.3 L1593.1,426.2" fill="none" stroke="#d2001e" stroke-width="4.4" stroke-linecap="round" stroke-linejoin="round" stroke-dasharray="12.9 8.9"/>
<path d="M1106.8,130.5 L1100.5,155" stroke="#000" stroke-width="3.6" stroke-linecap="round" fill="none"/>
<path d="M1091.6,151.1 L1110.1,157.6 L1096,171 Z" fill="#000"/>
<path d="M122.3,658.0 V1098.0 H782.0" fill="none" stroke="#000" stroke-width="4.4" stroke-linejoin="miter"/>
<text transform="translate(118.50,1109.80)" text-anchor="end" class="tl">0</text>
<text transform="translate(118.50,1055.05)" text-anchor="end" class="tl">10</text>
<text transform="translate(118.50,1000.30)" text-anchor="end" class="tl">20</text>
<text transform="translate(118.50,945.55)" text-anchor="end" class="tl">30</text>
<text transform="translate(118.50,890.80)" text-anchor="end" class="tl">40</text>
<text transform="translate(118.50,836.05)" text-anchor="end" class="tl">50</text>
<text transform="translate(118.50,781.30)" text-anchor="end" class="tl">60</text>
<text transform="translate(118.50,726.55)" text-anchor="end" class="tl">70</text>
<text transform="translate(118.50,671.80)" text-anchor="end" class="tl">80</text>
<text transform="translate(160.99,1133.30)" text-anchor="middle" class="tl">320</text>
<text transform="translate(238.37,1133.30)" text-anchor="middle" class="tl">330</text>
<text transform="translate(315.75,1133.30)" text-anchor="middle" class="tl">340</text>
<text transform="translate(393.13,1133.30)" text-anchor="middle" class="tl">350</text>
<text transform="translate(470.51,1133.30)" text-anchor="middle" class="tl">360</text>
<text transform="translate(547.89,1133.30)" text-anchor="middle" class="tl">370</text>
<text transform="translate(625.27,1133.30)" text-anchor="middle" class="tl">380</text>
<text transform="translate(702.65,1133.30)" text-anchor="middle" class="tl">390</text>
<text transform="translate(780.03,1133.30)" text-anchor="middle" class="tl">400</text>
<path d="M122.3,1070.6h10 M122.3,1043.2h19 M122.3,1015.9h10 M122.3,988.5h19 M122.3,961.1h10 M122.3,933.8h19 M122.3,906.4h10 M122.3,879.0h19 M122.3,851.6h10 M122.3,824.2h19 M122.3,796.9h10 M122.3,769.5h19 M122.3,742.1h10 M122.3,714.8h19 M122.3,687.4h10 M122.3,660.0h19 M161.0,1098.0v-19 M199.7,1098.0v-10 M238.4,1098.0v-19 M277.1,1098.0v-10 M315.8,1098.0v-19 M354.4,1098.0v-10 M393.1,1098.0v-19 M431.8,1098.0v-10 M470.5,1098.0v-19 M509.2,1098.0v-10 M547.9,1098.0v-19 M586.6,1098.0v-10 M625.3,1098.0v-19 M664.0,1098.0v-10 M702.6,1098.0v-19 M741.3,1098.0v-10 M780.0,1098.0v-19" stroke="#000" stroke-width="4.3" fill="none"/>
<text transform="translate(450.36,1188.60) scale(0.931,1.0)" text-anchor="middle" class="ti">Wavlength (nm)</text>
<text transform="translate(62.30,879.40) rotate(-90) scale(0.931,1.0)" text-anchor="middle" class="ti" xml:space="preserve">Intensity  (A.F.U.)</text>
<text transform="translate(-1.00,648.00) scale(0.96,1.0)" class="let">c</text>
<path d="M122.3,904.8 L126.2,898.5 L130.1,892.0 L134.0,885.2 L137.9,878.2 L141.8,871.1 L145.7,863.9 L149.5,856.6 L153.4,849.2 L157.3,841.8 L161.2,834.3 L165.1,826.9 L169.0,819.6 L172.9,812.3 L176.8,805.1 L180.7,798.1 L184.6,791.2 L188.5,784.6 L192.4,778.1 L196.2,771.8 L200.1,765.7 L204.0,759.9 L207.9,754.4 L211.8,749.1 L215.7,744.1 L219.6,739.3 L223.5,734.9 L227.4,730.8 L231.3,727.0 L235.2,723.5 L239.1,720.2 L242.9,717.2 L246.8,714.4 L250.7,711.8 L254.6,709.4 L258.5,707.2 L262.4,705.2 L266.3,703.4 L270.2,701.8 L274.1,700.3 L278.0,699.1 L281.9,698.0 L285.8,697.1 L289.7,696.5 L293.5,696.0 L297.4,695.7 L301.3,695.6 L305.2,695.7 L309.1,696.0 L313.0,696.4 L316.9,697.0 L320.8,697.8 L324.7,698.7 L328.6,699.8 L332.5,701.0 L336.4,702.4 L340.2,703.9 L344.1,705.5 L348.0,707.3 L351.9,709.1 L355.8,711.1 L359.7,713.2 L363.6,715.4 L367.5,717.6 L371.4,720.0 L375.3,722.4 L379.2,724.9 L383.1,727.5 L386.9,730.2 L390.8,733.0 L394.7,735.8 L398.6,738.8 L402.5,741.8 L406.4,744.9 L410.3,748.1 L414.2,751.4 L418.1,754.7 L422.0,758.2 L425.9,761.8 L429.8,765.4 L433.7,769.1 L437.5,773.0 L441.4,776.9 L445.3,780.9 L449.2,785.0 L453.1,789.2 L457.0,793.5 L460.9,797.8 L464.8,802.2 L468.7,806.6 L472.6,811.1 L476.5,815.6 L480.4,820.1 L484.2,824.6 L488.1,829.2 L492.0,833.7 L495.9,838.3 L499.8,842.8 L503.7,847.3 L507.6,851.8 L511.5,856.2 L515.4,860.6 L519.3,865.0 L523.2,869.3 L527.1,873.5 L530.9,877.7 L534.8,881.9 L538.7,886.0 L542.6,890.0 L546.5,894.1 L550.4,898.0 L554.3,902.0 L558.2,905.9 L562.1,909.8 L566.0,913.7 L569.9,917.5 L573.8,921.4 L577.7,925.2 L581.5,929.0 L585.4,932.8 L589.3,936.6 L593.2,940.4 L597.1,944.2 L601.0,948.1 L604.9,951.9 L608.8,955.7 L612.7,959.5 L616.6,963.2 L620.5,966.9 L624.4,970.6 L628.2,974.2 L632.1,977.7 L636.0,981.1 L639.9,984.5 L643.8,987.7 L647.7,990.8 L651.6,993.8 L655.5,996.8 L659.4,999.6 L663.3,1002.4 L667.2,1005.1 L671.1,1007.7 L674.9,1010.3 L678.8,1012.8 L682.7,1015.3 L686.6,1017.7 L690.5,1020.0 L694.4,1022.3 L698.3,1024.5 L702.2,1026.7 L706.1,1028.8 L710.0,1030.9 L713.9,1033.0 L717.8,1035.0 L721.7,1036.9 L725.5,1038.8 L729.4,1040.7 L733.3,1042.4 L737.2,1044.2 L741.1,1045.9 L745.0,1047.5 L748.9,1049.1 L752.8,1050.6 L756.7,1052.1 L760.6,1053.5 L764.5,1054.9 L768.4,1056.2 L772.2,1057.4 L776.1,1058.6 L780.0,1059.8" fill="none" stroke="#000" stroke-width="3.8" stroke-linecap="round" stroke-linejoin="round" stroke-width="5" transform="translate(0.4,-0.6)"/>
<path d="M122.3,901.5 L126.2,895.2 L130.1,888.7 L134.0,881.9 L137.9,875.0 L141.8,867.9 L145.7,860.6 L149.5,853.3 L153.4,845.9 L157.3,838.5 L161.2,831.1 L165.1,823.7 L169.0,816.3 L172.9,809.0 L176.8,801.9 L180.7,794.8 L184.6,788.0 L188.5,781.3 L192.4,774.8 L196.2,768.5 L200.1,762.5 L204.0,756.6 L207.9,751.1 L211.8,745.8 L215.7,740.8 L219.6,736.1 L223.5,731.7 L227.4,727.5 L231.3,723.7 L235.2,720.2 L239.1,716.9 L242.9,713.9 L246.8,711.1 L250.7,708.5 L254.6,706.1 L258.5,703.9 L262.4,701.9 L266.3,700.1 L270.2,698.5 L274.1,697.0 L278.0,695.8 L281.9,694.7 L285.8,693.8 L289.7,693.2 L293.5,692.7 L297.4,692.4 L301.3,692.3 L305.2,692.4 L309.1,692.7 L313.0,693.1 L316.9,693.7 L320.8,694.5 L324.7,695.5 L328.6,696.5 L332.5,697.8 L336.4,699.1 L340.2,700.6 L344.1,702.2 L348.0,704.0 L351.9,705.9 L355.8,707.8 L359.7,709.9 L363.6,712.1 L367.5,714.3 L371.4,716.7 L375.3,719.1 L379.2,721.7 L383.1,724.3 L386.9,726.9 L390.8,729.7 L394.7,732.6 L398.6,735.5 L402.5,738.5 L406.4,741.6 L410.3,744.8 L414.2,748.1 L418.1,751.5 L422.0,754.9 L425.9,758.5 L429.8,762.1 L433.7,765.9 L437.5,769.7 L441.4,773.6 L445.3,777.7 L449.2,781.8 L453.1,786.0 L457.0,790.2 L460.9,794.5 L464.8,798.9 L468.7,803.3 L472.6,807.8 L476.5,812.3 L480.4,816.8 L484.2,821.3 L488.1,825.9 L492.0,830.4 L495.9,835.0 L499.8,839.5 L503.7,844.0 L507.6,848.5 L511.5,853.0 L515.4,857.4 L519.3,861.7 L523.2,866.0 L527.1,870.3 L530.9,874.5 L534.8,878.6 L538.7,882.7 L542.6,886.8 L546.5,890.8 L550.4,894.8 L554.3,898.7 L558.2,902.6 L562.1,906.5 L566.0,910.4 L569.9,914.3 L573.8,918.1 L577.7,921.9 L581.5,925.7 L585.4,929.5 L589.3,933.4 L593.2,937.2 L597.1,941.0 L601.0,944.8 L604.9,948.6 L608.8,952.4 L612.7,956.2 L616.6,959.9 L620.5,963.7 L624.4,967.3 L628.2,970.9 L632.1,974.4 L636.0,977.9 L639.9,981.2 L643.8,984.4 L647.7,987.5 L651.6,990.5 L655.5,993.5 L659.4,996.3 L663.3,999.1 L667.2,1001.8 L671.1,1004.5 L674.9,1007.0 L678.8,1009.5 L682.7,1012.0 L686.6,1014.4 L690.5,1016.7 L694.4,1019.0 L698.3,1021.2 L702.2,1023.4 L706.1,1025.6 L710.0,1027.7 L713.9,1029.7 L717.8,1031.7 L721.7,1033.6 L725.5,1035.5 L729.4,1037.4 L733.3,1039.2 L737.2,1040.9 L741.1,1042.6 L745.0,1044.2 L748.9,1045.8 L752.8,1047.3 L756.7,1048.8 L760.6,1050.2 L764.5,1051.6 L768.4,1052.9 L772.2,1054.2 L776.1,1055.3 L780.0,1056.5" fill="none" stroke="#000" stroke-width="4.0" stroke-linecap="round" stroke-linejoin="round" stroke-dasharray="0.1 7.5"/>
<path d="M122.3,906.2 L126.2,899.9 L130.1,893.3 L134.0,886.6 L137.9,879.6 L141.8,872.5 L145.7,865.3 L149.5,858.0 L153.4,850.6 L157.3,843.1 L161.2,835.7 L165.1,828.3 L169.0,820.9 L172.9,813.7 L176.8,806.5 L180.7,799.5 L184.6,792.6 L188.5,785.9 L192.4,779.4 L196.2,773.2 L200.1,767.1 L204.0,761.3 L207.9,755.7 L211.8,750.4 L215.7,745.4 L219.6,740.7 L223.5,736.3 L227.4,732.2 L231.3,728.4 L235.2,724.8 L239.1,721.6 L242.9,718.5 L246.8,715.7 L250.7,713.1 L254.6,710.8 L258.5,708.6 L262.4,706.6 L266.3,704.8 L270.2,703.1 L274.1,701.7 L278.0,700.4 L281.9,699.4 L285.8,698.5 L289.7,697.8 L293.5,697.3 L297.4,697.1 L301.3,697.0 L305.2,697.1 L309.1,697.3 L313.0,697.8 L316.9,698.4 L320.8,699.2 L324.7,700.1 L328.6,701.2 L332.5,702.4 L336.4,703.8 L340.2,705.3 L344.1,706.9 L348.0,708.6 L351.9,710.5 L355.8,712.5 L359.7,714.6 L363.6,716.7 L367.5,719.0 L371.4,721.4 L375.3,723.8 L379.2,726.3 L383.1,728.9 L386.9,731.6 L390.8,734.4 L394.7,737.2 L398.6,740.1 L402.5,743.2 L406.4,746.3 L410.3,749.5 L414.2,752.7 L418.1,756.1 L422.0,759.6 L425.9,763.1 L429.8,766.8 L433.7,770.5 L437.5,774.4 L441.4,778.3 L445.3,782.3 L449.2,786.4 L453.1,790.6 L457.0,794.9 L460.9,799.2 L464.8,803.6 L468.7,808.0 L472.6,812.4 L476.5,816.9 L480.4,821.5 L484.2,826.0 L488.1,830.5 L492.0,835.1 L495.9,839.6 L499.8,844.2 L503.7,848.7 L507.6,853.2 L511.5,857.6 L515.4,862.0 L519.3,866.4 L523.2,870.7 L527.1,874.9 L530.9,879.1 L534.8,883.3 L538.7,887.4 L542.6,891.4 L546.5,895.4 L550.4,899.4 L554.3,903.4 L558.2,907.3 L562.1,911.2 L566.0,915.1 L569.9,918.9 L573.8,922.8 L577.7,926.6 L581.5,930.4 L585.4,934.2 L589.3,938.0 L593.2,941.8 L597.1,945.6 L601.0,949.4 L604.9,953.2 L608.8,957.0 L612.7,960.8 L616.6,964.6 L620.5,968.3 L624.4,972.0 L628.2,975.6 L632.1,979.1 L636.0,982.5 L639.9,985.8 L643.8,989.1 L647.7,992.2 L651.6,995.2 L655.5,998.1 L659.4,1001.0 L663.3,1003.8 L667.2,1006.5 L671.1,1009.1 L674.9,1011.7 L678.8,1014.2 L682.7,1016.6 L686.6,1019.0 L690.5,1021.4 L694.4,1023.7 L698.3,1025.9 L702.2,1028.1 L706.1,1030.2 L710.0,1032.3 L713.9,1034.3 L717.8,1036.3 L721.7,1038.3 L725.5,1040.2 L729.4,1042.0 L733.3,1043.8 L737.2,1045.6 L741.1,1047.2 L745.0,1048.9 L748.9,1050.5 L752.8,1052.0 L756.7,1053.5 L760.6,1054.9 L764.5,1056.2 L768.4,1057.6 L772.2,1058.8 L776.1,1060.0 L780.0,1061.1" fill="none" stroke="#d2001e" stroke-width="4.4" stroke-linecap="round" stroke-linejoin="round" stroke-dasharray="12.9 8.9"/>
<path d="M935.4,659.0 V1097.8 H1595.1" fill="none" stroke="#000" stroke-width="4.4" stroke-linejoin="miter"/>
<text transform="translate(931.60,1109.60)" text-anchor="end" class="tl">0</text>
<text transform="translate(931.60,1055.00)" text-anchor="end" class="tl">10</text>
<text transform="translate(931.60,1000.40)" text-anchor="end" class="tl">20</text>
<text transform="translate(931.60,945.80)" text-anchor="end" class="tl">30</text>
<text transform="translate(931.60,891.20)" text-anchor="end" class="tl">40</text>
<text transform="translate(931.60,836.60)" text-anchor="end" class="tl">50</text>
<text transform="translate(931.60,782.00)" text-anchor="end" class="tl">60</text>
<text transform="translate(931.60,727.40)" text-anchor="end" class="tl">70</text>
<text transform="translate(931.60,672.80)" text-anchor="end" class="tl">80</text>
<text transform="translate(974.09,1133.10)" text-anchor="middle" class="tl">320</text>
<text transform="translate(1051.47,1133.10)" text-anchor="middle" class="tl">330</text>
<text transform="translate(1128.85,1133.10)" text-anchor="middle" class="tl">340</text>
<text transform="translate(1206.23,1133.10)" text-anchor="middle" class="tl">350</text>
<text transform="translate(1283.61,1133.10)" text-anchor="middle" class="tl">360</text>
<text transform="translate(1360.99,1133.10)" text-anchor="middle" class="tl">370</text>
<text transform="translate(1438.37,1133.10)" text-anchor="middle" class="tl">380</text>
<text transform="translate(1515.75,1133.10)" text-anchor="middle" class="tl">390</text>
<text transform="translate(1593.13,1133.10)" text-anchor="middle" class="tl">400</text>
<path d="M935.4,1070.5h10 M935.4,1043.2h19 M935.4,1015.9h10 M935.4,988.6h19 M935.4,961.3h10 M935.4,934.0h19 M935.4,906.7h10 M935.4,879.4h19 M935.4,852.1h10 M935.4,824.8h19 M935.4,797.5h10 M935.4,770.2h19 M935.4,742.9h10 M935.4,715.6h19 M935.4,688.3h10 M935.4,661.0h19 M974.1,1097.8v-19 M1012.8,1097.8v-10 M1051.5,1097.8v-19 M1090.2,1097.8v-10 M1128.8,1097.8v-19 M1167.5,1097.8v-10 M1206.2,1097.8v-19 M1244.9,1097.8v-10 M1283.6,1097.8v-19 M1322.3,1097.8v-10 M1361.0,1097.8v-19 M1399.7,1097.8v-10 M1438.4,1097.8v-19 M1477.1,1097.8v-10 M1515.8,1097.8v-19 M1554.4,1097.8v-10 M1593.1,1097.8v-19" stroke="#000" stroke-width="4.3" fill="none"/>
<text transform="translate(1263.47,1188.40) scale(0.931,1.0)" text-anchor="middle" class="ti">Wavlength (nm)</text>
<text transform="translate(875.40,879.80) rotate(-90) scale(0.931,1.0)" text-anchor="middle" class="ti" xml:space="preserve">Intensity  (A.F.U.)</text>
<text transform="translate(812.00,649.50) scale(0.96,1.0)" class="let">d</text>
<path d="M935.4,864.9 L939.3,860.3 L943.2,855.6 L947.1,850.7 L951.0,845.7 L954.9,840.6 L958.8,835.5 L962.6,830.4 L966.5,825.2 L970.4,820.1 L974.3,815.1 L978.2,810.1 L982.1,805.2 L986.0,800.4 L989.9,795.7 L993.8,791.1 L997.7,786.6 L1001.6,782.2 L1005.5,777.9 L1009.3,773.7 L1013.2,769.6 L1017.1,765.6 L1021.0,761.7 L1024.9,757.9 L1028.8,754.2 L1032.7,750.8 L1036.6,747.4 L1040.5,744.4 L1044.4,741.5 L1048.3,738.9 L1052.2,736.5 L1056.0,734.5 L1059.9,732.7 L1063.8,731.2 L1067.7,729.9 L1071.6,728.9 L1075.5,728.1 L1079.4,727.5 L1083.3,727.2 L1087.2,727.0 L1091.1,727.0 L1095.0,727.3 L1098.9,727.7 L1102.8,728.2 L1106.6,728.9 L1110.5,729.8 L1114.4,730.9 L1118.3,732.0 L1122.2,733.4 L1126.1,734.8 L1130.0,736.3 L1133.9,738.0 L1137.8,739.8 L1141.7,741.6 L1145.6,743.6 L1149.5,745.6 L1153.3,747.7 L1157.2,749.9 L1161.1,752.2 L1165.0,754.6 L1168.9,757.1 L1172.8,759.6 L1176.7,762.2 L1180.6,764.9 L1184.5,767.6 L1188.4,770.4 L1192.3,773.3 L1196.2,776.2 L1200.0,779.3 L1203.9,782.3 L1207.8,785.5 L1211.7,788.7 L1215.6,791.9 L1219.5,795.2 L1223.4,798.6 L1227.3,802.1 L1231.2,805.6 L1235.1,809.2 L1239.0,812.9 L1242.9,816.6 L1246.8,820.4 L1250.6,824.3 L1254.5,828.2 L1258.4,832.3 L1262.3,836.4 L1266.2,840.5 L1270.1,844.8 L1274.0,849.1 L1277.9,853.5 L1281.8,858.0 L1285.7,862.4 L1289.6,866.9 L1293.5,871.3 L1297.3,875.7 L1301.2,880.0 L1305.1,884.3 L1309.0,888.5 L1312.9,892.6 L1316.8,896.5 L1320.7,900.3 L1324.6,904.0 L1328.5,907.6 L1332.4,911.1 L1336.3,914.5 L1340.2,917.9 L1344.0,921.2 L1347.9,924.5 L1351.8,927.8 L1355.7,931.1 L1359.6,934.4 L1363.5,937.7 L1367.4,941.1 L1371.3,944.5 L1375.2,948.0 L1379.1,951.7 L1383.0,955.5 L1386.9,959.4 L1390.8,963.3 L1394.6,967.1 L1398.5,970.8 L1402.4,974.3 L1406.3,977.8 L1410.2,981.1 L1414.1,984.4 L1418.0,987.6 L1421.9,990.8 L1425.8,993.9 L1429.7,996.9 L1433.6,999.9 L1437.5,1002.8 L1441.3,1005.6 L1445.2,1008.4 L1449.1,1011.2 L1453.0,1013.8 L1456.9,1016.4 L1460.8,1019.0 L1464.7,1021.5 L1468.6,1023.9 L1472.5,1026.3 L1476.4,1028.6 L1480.3,1030.9 L1484.2,1033.1 L1488.0,1035.2 L1491.9,1037.3 L1495.8,1039.4 L1499.7,1041.3 L1503.6,1043.3 L1507.5,1045.1 L1511.4,1047.0 L1515.3,1048.7 L1519.2,1050.5 L1523.1,1052.1 L1527.0,1053.7 L1530.9,1055.3 L1534.8,1056.8 L1538.6,1058.3 L1542.5,1059.7 L1546.4,1061.1 L1550.3,1062.4 L1554.2,1063.7 L1558.1,1064.9 L1562.0,1066.1 L1565.9,1067.2 L1569.8,1068.3 L1573.7,1069.3 L1577.6,1070.3 L1581.5,1071.2 L1585.3,1072.1 L1589.2,1073.0 L1593.1,1073.8" fill="none" stroke="#000" stroke-width="3.8" stroke-linecap="round" stroke-linejoin="round"/>
<path d="M935.4,869.6 L939.3,864.7 L943.2,859.7 L947.1,854.6 L951.0,849.5 L954.9,844.2 L958.8,838.9 L962.6,833.6 L966.5,828.2 L970.4,822.8 L974.3,817.4 L978.2,812.2 L982.1,807.0 L986.0,801.9 L989.9,797.0 L993.8,792.1 L997.7,787.4 L1001.6,782.9 L1005.5,778.4 L1009.3,774.1 L1013.2,769.9 L1017.1,765.7 L1021.0,761.7 L1024.9,757.8 L1028.8,754.0 L1032.7,750.4 L1036.6,746.9 L1040.5,743.7 L1044.4,740.7 L1048.3,738.0 L1052.2,735.5 L1056.0,733.3 L1059.9,731.4 L1063.8,729.7 L1067.7,728.3 L1071.6,727.2 L1075.5,726.2 L1079.4,725.5 L1083.3,725.0 L1087.2,724.7 L1091.1,724.6 L1095.0,724.6 L1098.9,724.9 L1102.8,725.3 L1106.6,725.9 L1110.5,726.7 L1114.4,727.6 L1118.3,728.7 L1122.2,729.9 L1126.1,731.2 L1130.0,732.7 L1133.9,734.2 L1137.8,735.9 L1141.7,737.7 L1145.6,739.6 L1149.5,741.5 L1153.3,743.6 L1157.2,745.7 L1161.1,748.0 L1165.0,750.3 L1168.9,752.7 L1172.8,755.1 L1176.7,757.7 L1180.6,760.3 L1184.5,763.0 L1188.4,765.8 L1192.3,768.7 L1196.2,771.6 L1200.0,774.6 L1203.9,777.6 L1207.8,780.8 L1211.7,783.9 L1215.6,787.2 L1219.5,790.5 L1223.4,793.9 L1227.3,797.3 L1231.2,800.9 L1235.1,804.5 L1239.0,808.1 L1242.9,811.9 L1246.8,815.7 L1250.6,819.6 L1254.5,823.5 L1258.4,827.6 L1262.3,831.7 L1266.2,835.8 L1270.1,840.1 L1274.0,844.4 L1277.9,848.8 L1281.8,853.3 L1285.7,857.7 L1289.6,862.2 L1293.5,866.6 L1297.3,871.0 L1301.2,875.4 L1305.1,879.7 L1309.0,883.9 L1312.9,888.0 L1316.8,891.9 L1320.7,895.8 L1324.6,899.5 L1328.5,903.2 L1332.4,906.7 L1336.3,910.2 L1340.2,913.7 L1344.0,917.0 L1347.9,920.4 L1351.8,923.8 L1355.7,927.1 L1359.6,930.5 L1363.5,933.9 L1367.4,937.3 L1371.3,940.8 L1375.2,944.4 L1379.1,948.1 L1383.0,951.9 L1386.9,955.8 L1390.8,959.7 L1394.6,963.5 L1398.5,967.2 L1402.4,970.8 L1406.3,974.3 L1410.2,977.7 L1414.1,981.0 L1418.0,984.3 L1421.9,987.5 L1425.8,990.7 L1429.7,993.8 L1433.6,996.8 L1437.5,999.8 L1441.3,1002.7 L1445.2,1005.5 L1449.1,1008.3 L1453.0,1011.1 L1456.9,1013.7 L1460.8,1016.4 L1464.7,1018.9 L1468.6,1021.4 L1472.5,1023.9 L1476.4,1026.2 L1480.3,1028.6 L1484.2,1030.8 L1488.0,1033.1 L1491.9,1035.2 L1495.8,1037.3 L1499.7,1039.4 L1503.6,1041.3 L1507.5,1043.3 L1511.4,1045.1 L1515.3,1047.0 L1519.2,1048.7 L1523.1,1050.4 L1527.0,1052.1 L1530.9,1053.7 L1534.8,1055.3 L1538.6,1056.8 L1542.5,1058.2 L1546.4,1059.6 L1550.3,1061.0 L1554.2,1062.3 L1558.1,1063.5 L1562.0,1064.8 L1565.9,1065.9 L1569.8,1067.0 L1573.7,1068.1 L1577.6,1069.1 L1581.5,1070.1 L1585.3,1071.1 L1589.2,1072.0 L1593.1,1072.8" fill="none" stroke="#000" stroke-width="3.8" stroke-linecap="round" stroke-linejoin="round" stroke-dasharray="12.9 8.9"/>
<path d="M935.4,873.3 L939.3,868.2 L943.2,863.0 L947.1,857.8 L951.0,852.5 L954.9,847.1 L958.8,841.6 L962.6,836.1 L966.5,830.5 L970.4,824.9 L974.3,819.3 L978.2,813.8 L982.1,808.4 L986.0,803.1 L989.9,797.9 L993.8,792.9 L997.7,788.1 L1001.6,783.4 L1005.5,778.8 L1009.3,774.4 L1013.2,770.1 L1017.1,765.8 L1021.0,761.7 L1024.9,757.7 L1028.8,753.8 L1032.7,750.1 L1036.6,746.5 L1040.5,743.2 L1044.4,740.1 L1048.3,737.3 L1052.2,734.7 L1056.0,732.4 L1059.9,730.4 L1063.8,728.6 L1067.7,727.0 L1071.6,725.8 L1075.5,724.7 L1079.4,723.8 L1083.3,723.2 L1087.2,722.8 L1091.1,722.6 L1095.0,722.5 L1098.9,722.7 L1102.8,723.0 L1106.6,723.5 L1110.5,724.2 L1114.4,725.0 L1118.3,726.0 L1122.2,727.1 L1126.1,728.3 L1130.0,729.7 L1133.9,731.2 L1137.8,732.8 L1141.7,734.5 L1145.6,736.3 L1149.5,738.3 L1153.3,740.3 L1157.2,742.3 L1161.1,744.5 L1165.0,746.8 L1168.9,749.2 L1172.8,751.6 L1176.7,754.1 L1180.6,756.7 L1184.5,759.4 L1188.4,762.1 L1192.3,765.0 L1196.2,767.9 L1200.0,770.8 L1203.9,773.9 L1207.8,777.0 L1211.7,780.2 L1215.6,783.4 L1219.5,786.7 L1223.4,790.1 L1227.3,793.6 L1231.2,797.1 L1235.1,800.7 L1239.0,804.3 L1242.9,808.1 L1246.8,811.9 L1250.6,815.8 L1254.5,819.8 L1258.4,823.8 L1262.3,827.9 L1266.2,832.1 L1270.1,836.3 L1274.0,840.7 L1277.9,845.1 L1281.8,849.5 L1285.7,854.0 L1289.6,858.4 L1293.5,862.9 L1297.3,867.3 L1301.2,871.7 L1305.1,876.0 L1309.0,880.2 L1312.9,884.3 L1316.8,888.3 L1320.7,892.2 L1324.6,896.0 L1328.5,899.6 L1332.4,903.3 L1336.3,906.8 L1340.2,910.3 L1344.0,913.7 L1347.9,917.2 L1351.8,920.6 L1355.7,924.0 L1359.6,927.4 L1363.5,930.8 L1367.4,934.3 L1371.3,937.9 L1375.2,941.5 L1379.1,945.2 L1383.0,949.0 L1386.9,952.9 L1390.8,956.8 L1394.6,960.7 L1398.5,964.4 L1402.4,968.0 L1406.3,971.5 L1410.2,975.0 L1414.1,978.3 L1418.0,981.6 L1421.9,984.9 L1425.8,988.1 L1429.7,991.2 L1433.6,994.3 L1437.5,997.4 L1441.3,1000.3 L1445.2,1003.2 L1449.1,1006.1 L1453.0,1008.9 L1456.9,1011.6 L1460.8,1014.3 L1464.7,1016.9 L1468.6,1019.4 L1472.5,1021.9 L1476.4,1024.4 L1480.3,1026.7 L1484.2,1029.1 L1488.0,1031.3 L1491.9,1033.5 L1495.8,1035.7 L1499.7,1037.8 L1503.6,1039.8 L1507.5,1041.8 L1511.4,1043.7 L1515.3,1045.5 L1519.2,1047.3 L1523.1,1049.1 L1527.0,1050.8 L1530.9,1052.4 L1534.8,1054.0 L1538.6,1055.5 L1542.5,1057.0 L1546.4,1058.5 L1550.3,1059.8 L1554.2,1061.2 L1558.1,1062.5 L1562.0,1063.7 L1565.9,1064.9 L1569.8,1066.1 L1573.7,1067.2 L1577.6,1068.2 L1581.5,1069.3 L1585.3,1070.2 L1589.2,1071.2 L1593.1,1072.1" fill="none" stroke="#000" stroke-width="3.8" stroke-linecap="round" stroke-linejoin="round" stroke-dasharray="12.9 6.5 0.1 6.5"/>
<path d="M935.4,878.8 L939.3,873.4 L943.2,867.9 L947.1,862.5 L951.0,857.0 L954.9,851.4 L958.8,845.7 L962.6,839.9 L966.5,834.0 L970.4,828.1 L974.3,822.1 L978.2,816.3 L982.1,810.5 L986.0,804.9 L989.9,799.4 L993.8,794.1 L997.7,789.1 L1001.6,784.2 L1005.5,779.4 L1009.3,774.9 L1013.2,770.4 L1017.1,766.0 L1021.0,761.7 L1024.9,757.5 L1028.8,753.5 L1032.7,749.6 L1036.6,745.9 L1040.5,742.4 L1044.4,739.2 L1048.3,736.2 L1052.2,733.5 L1056.0,731.0 L1059.9,728.8 L1063.8,726.8 L1067.7,725.1 L1071.6,723.6 L1075.5,722.4 L1079.4,721.4 L1083.3,720.6 L1087.2,720.0 L1091.1,719.6 L1095.0,719.4 L1098.9,719.4 L1102.8,719.5 L1106.6,719.9 L1110.5,720.4 L1114.4,721.1 L1118.3,721.9 L1122.2,722.9 L1126.1,724.1 L1130.0,725.3 L1133.9,726.7 L1137.8,728.2 L1141.7,729.8 L1145.6,731.5 L1149.5,733.3 L1153.3,735.3 L1157.2,737.3 L1161.1,739.4 L1165.0,741.6 L1168.9,743.9 L1172.8,746.3 L1176.7,748.7 L1180.6,751.3 L1184.5,753.9 L1188.4,756.6 L1192.3,759.4 L1196.2,762.3 L1200.0,765.2 L1203.9,768.3 L1207.8,771.3 L1211.7,774.5 L1215.6,777.7 L1219.5,781.0 L1223.4,784.4 L1227.3,787.9 L1231.2,791.4 L1235.1,795.0 L1239.0,798.7 L1242.9,802.4 L1246.8,806.2 L1250.6,810.1 L1254.5,814.1 L1258.4,818.1 L1262.3,822.3 L1266.2,826.4 L1270.1,830.7 L1274.0,835.0 L1277.9,839.4 L1281.8,843.9 L1285.7,848.3 L1289.6,852.8 L1293.5,857.2 L1297.3,861.7 L1301.2,866.1 L1305.1,870.4 L1309.0,874.6 L1312.9,878.8 L1316.8,882.8 L1320.7,886.8 L1324.6,890.6 L1328.5,894.4 L1332.4,898.0 L1336.3,901.7 L1340.2,905.2 L1344.0,908.8 L1347.9,912.3 L1351.8,915.8 L1355.7,919.2 L1359.6,922.7 L1363.5,926.3 L1367.4,929.8 L1371.3,933.4 L1375.2,937.1 L1379.1,940.9 L1383.0,944.7 L1386.9,948.6 L1390.8,952.5 L1394.6,956.4 L1398.5,960.1 L1402.4,963.8 L1406.3,967.3 L1410.2,970.8 L1414.1,974.3 L1418.0,977.7 L1421.9,981.0 L1425.8,984.3 L1429.7,987.5 L1433.6,990.6 L1437.5,993.7 L1441.3,996.8 L1445.2,999.8 L1449.1,1002.7 L1453.0,1005.5 L1456.9,1008.4 L1460.8,1011.1 L1464.7,1013.8 L1468.6,1016.4 L1472.5,1019.0 L1476.4,1021.5 L1480.3,1024.0 L1484.2,1026.4 L1488.0,1028.7 L1491.9,1031.0 L1495.8,1033.2 L1499.7,1035.4 L1503.6,1037.5 L1507.5,1039.5 L1511.4,1041.5 L1515.3,1043.4 L1519.2,1045.3 L1523.1,1047.1 L1527.0,1048.8 L1530.9,1050.5 L1534.8,1052.1 L1538.6,1053.7 L1542.5,1055.2 L1546.4,1056.7 L1550.3,1058.1 L1554.2,1059.5 L1558.1,1060.9 L1562.0,1062.2 L1565.9,1063.4 L1569.8,1064.6 L1573.7,1065.7 L1577.6,1066.9 L1581.5,1067.9 L1585.3,1069.0 L1589.2,1070.0 L1593.1,1070.9" fill="none" stroke="#000" stroke-width="4.0" stroke-linecap="round" stroke-linejoin="round" stroke-dasharray="0.1 7.5"/>
<path d="M935.4,883.4 L939.3,877.7 L943.2,872.1 L947.1,866.4 L951.0,860.7 L954.9,855.0 L958.8,849.1 L962.6,843.1 L966.5,836.9 L970.4,830.7 L974.3,824.5 L978.2,818.3 L982.1,812.2 L986.0,806.3 L989.9,800.6 L993.8,795.1 L997.7,789.9 L1001.6,784.8 L1005.5,780.0 L1009.3,775.2 L1013.2,770.7 L1017.1,766.2 L1021.0,761.8 L1024.9,757.4 L1028.8,753.2 L1032.7,749.2 L1036.6,745.4 L1040.5,741.8 L1044.4,738.4 L1048.3,735.3 L1052.2,732.4 L1056.0,729.8 L1059.9,727.5 L1063.8,725.4 L1067.7,723.5 L1071.6,721.9 L1075.5,720.5 L1079.4,719.3 L1083.3,718.4 L1087.2,717.6 L1091.1,717.1 L1095.0,716.7 L1098.9,716.6 L1102.8,716.6 L1106.6,716.9 L1110.5,717.3 L1114.4,717.8 L1118.3,718.6 L1122.2,719.5 L1126.1,720.5 L1130.0,721.6 L1133.9,722.9 L1137.8,724.3 L1141.7,725.9 L1145.6,727.5 L1149.5,729.3 L1153.3,731.1 L1157.2,733.1 L1161.1,735.1 L1165.0,737.2 L1168.9,739.5 L1172.8,741.8 L1176.7,744.2 L1180.6,746.8 L1184.5,749.4 L1188.4,752.0 L1192.3,754.8 L1196.2,757.6 L1200.0,760.6 L1203.9,763.6 L1207.8,766.6 L1211.7,769.8 L1215.6,773.0 L1219.5,776.3 L1223.4,779.7 L1227.3,783.1 L1231.2,786.7 L1235.1,790.3 L1239.0,793.9 L1242.9,797.7 L1246.8,801.5 L1250.6,805.4 L1254.5,809.4 L1258.4,813.4 L1262.3,817.6 L1266.2,821.7 L1270.1,826.0 L1274.0,830.3 L1277.9,834.7 L1281.8,839.2 L1285.7,843.6 L1289.6,848.1 L1293.5,852.6 L1297.3,857.0 L1301.2,861.4 L1305.1,865.7 L1309.0,870.0 L1312.9,874.2 L1316.8,878.3 L1320.7,882.3 L1324.6,886.1 L1328.5,890.0 L1332.4,893.7 L1336.3,897.4 L1340.2,901.0 L1344.0,904.6 L1347.9,908.2 L1351.8,911.7 L1355.7,915.3 L1359.6,918.9 L1363.5,922.5 L1367.4,926.1 L1371.3,929.8 L1375.2,933.5 L1379.1,937.3 L1383.0,941.1 L1386.9,945.0 L1390.8,948.9 L1394.6,952.8 L1398.5,956.6 L1402.4,960.3 L1406.3,963.9 L1410.2,967.4 L1414.1,970.9 L1418.0,974.3 L1421.9,977.7 L1425.8,981.0 L1429.7,984.3 L1433.6,987.5 L1437.5,990.7 L1441.3,993.8 L1445.2,996.9 L1449.1,999.9 L1453.0,1002.8 L1456.9,1005.7 L1460.8,1008.5 L1464.7,1011.3 L1468.6,1014.0 L1472.5,1016.6 L1476.4,1019.2 L1480.3,1021.7 L1484.2,1024.2 L1488.0,1026.6 L1491.9,1028.9 L1495.8,1031.2 L1499.7,1033.4 L1503.6,1035.6 L1507.5,1037.6 L1511.4,1039.7 L1515.3,1041.6 L1519.2,1043.5 L1523.1,1045.4 L1527.0,1047.2 L1530.9,1048.9 L1534.8,1050.6 L1538.6,1052.2 L1542.5,1053.8 L1546.4,1055.3 L1550.3,1056.7 L1554.2,1058.2 L1558.1,1059.5 L1562.0,1060.9 L1565.9,1062.1 L1569.8,1063.4 L1573.7,1064.6 L1577.6,1065.7 L1581.5,1066.8 L1585.3,1067.9 L1589.2,1068.9 L1593.1,1070.0" fill="none" stroke="#000" stroke-width="4.0" stroke-linecap="round" stroke-linejoin="round" stroke-dasharray="0.1 7.5"/>
<path d="M935.4,892.7 L939.3,886.4 L943.2,880.3 L947.1,874.3 L951.0,868.2 L954.9,862.1 L958.8,855.9 L962.6,849.4 L966.5,842.8 L970.4,836.0 L974.3,829.2 L978.2,822.4 L982.1,815.7 L986.0,809.3 L989.9,803.1 L993.8,797.1 L997.7,791.5 L1001.6,786.1 L1005.5,781.0 L1009.3,776.0 L1013.2,771.2 L1017.1,766.5 L1021.0,761.8 L1024.9,757.2 L1028.8,752.7 L1032.7,748.5 L1036.6,744.4 L1040.5,740.5 L1044.4,736.9 L1048.3,733.5 L1052.2,730.4 L1056.0,727.5 L1059.9,724.9 L1063.8,722.5 L1067.7,720.3 L1071.6,718.4 L1075.5,716.7 L1079.4,715.2 L1083.3,714.0 L1087.2,712.9 L1091.1,712.1 L1095.0,711.5 L1098.9,711.1 L1102.8,710.9 L1106.6,710.8 L1110.5,711.0 L1114.4,711.3 L1118.3,711.8 L1122.2,712.5 L1126.1,713.3 L1130.0,714.3 L1133.9,715.4 L1137.8,716.6 L1141.7,718.0 L1145.6,719.5 L1149.5,721.1 L1153.3,722.8 L1157.2,724.6 L1161.1,726.5 L1165.0,728.6 L1168.9,730.7 L1172.8,732.9 L1176.7,735.3 L1180.6,737.7 L1184.5,740.2 L1188.4,742.8 L1192.3,745.5 L1196.2,748.3 L1200.0,751.2 L1203.9,754.2 L1207.8,757.2 L1211.7,760.4 L1215.6,763.6 L1219.5,766.9 L1223.4,770.2 L1227.3,773.7 L1231.2,777.2 L1235.1,780.8 L1239.0,784.5 L1242.9,788.2 L1246.8,792.1 L1250.6,796.0 L1254.5,800.0 L1258.4,804.0 L1262.3,808.1 L1266.2,812.3 L1270.1,816.6 L1274.0,821.0 L1277.9,825.3 L1281.8,829.8 L1285.7,834.2 L1289.6,838.7 L1293.5,843.2 L1297.3,847.6 L1301.2,852.1 L1305.1,856.4 L1309.0,860.8 L1312.9,865.0 L1316.8,869.2 L1320.7,873.2 L1324.6,877.2 L1328.5,881.1 L1332.4,885.0 L1336.3,888.8 L1340.2,892.6 L1344.0,896.3 L1347.9,900.0 L1351.8,903.7 L1355.7,907.4 L1359.6,911.1 L1363.5,914.9 L1367.4,918.6 L1371.3,922.4 L1375.2,926.2 L1379.1,930.0 L1383.0,933.9 L1386.9,937.9 L1390.8,941.8 L1394.6,945.7 L1398.5,949.5 L1402.4,953.2 L1406.3,956.9 L1410.2,960.6 L1414.1,964.2 L1418.0,967.7 L1421.9,971.2 L1425.8,974.6 L1429.7,978.0 L1433.6,981.4 L1437.5,984.7 L1441.3,987.9 L1445.2,991.1 L1449.1,994.2 L1453.0,997.3 L1456.9,1000.3 L1460.8,1003.2 L1464.7,1006.1 L1468.6,1009.0 L1472.5,1011.8 L1476.4,1014.5 L1480.3,1017.1 L1484.2,1019.7 L1488.0,1022.3 L1491.9,1024.7 L1495.8,1027.1 L1499.7,1029.4 L1503.6,1031.7 L1507.5,1033.9 L1511.4,1036.0 L1515.3,1038.1 L1519.2,1040.1 L1523.1,1042.0 L1527.0,1043.9 L1530.9,1045.7 L1534.8,1047.4 L1538.6,1049.1 L1542.5,1050.8 L1546.4,1052.4 L1550.3,1053.9 L1554.2,1055.4 L1558.1,1056.9 L1562.0,1058.3 L1565.9,1059.6 L1569.8,1060.9 L1573.7,1062.2 L1577.6,1063.4 L1581.5,1064.6 L1585.3,1065.8 L1589.2,1066.9 L1593.1,1068.0" fill="none" stroke="#808080" stroke-width="3.8" stroke-linecap="round" stroke-linejoin="round"/>
<path d="M935.4,901.9 L939.3,895.1 L943.2,888.6 L947.1,882.1 L951.0,875.8 L954.9,869.3 L958.8,862.7 L962.6,855.8 L966.5,848.6 L970.4,841.3 L974.3,833.9 L978.2,826.5 L982.1,819.3 L986.0,812.2 L989.9,805.5 L993.8,799.1 L997.7,793.1 L1001.6,787.5 L1005.5,782.0 L1009.3,776.8 L1013.2,771.7 L1017.1,766.8 L1021.0,761.8 L1024.9,757.0 L1028.8,752.2 L1032.7,747.7 L1036.6,743.4 L1040.5,739.3 L1044.4,735.4 L1048.3,731.7 L1052.2,728.3 L1056.0,725.2 L1059.9,722.2 L1063.8,719.6 L1067.7,717.1 L1071.6,714.9 L1075.5,712.9 L1079.4,711.1 L1083.3,709.5 L1087.2,708.2 L1091.1,707.1 L1095.0,706.2 L1098.9,705.6 L1102.8,705.1 L1106.6,704.8 L1110.5,704.7 L1114.4,704.8 L1118.3,705.1 L1122.2,705.5 L1126.1,706.2 L1130.0,706.9 L1133.9,707.8 L1137.8,708.9 L1141.7,710.1 L1145.6,711.4 L1149.5,712.9 L1153.3,714.5 L1157.2,716.2 L1161.1,718.0 L1165.0,719.9 L1168.9,721.9 L1172.8,724.1 L1176.7,726.3 L1180.6,728.6 L1184.5,731.1 L1188.4,733.6 L1192.3,736.3 L1196.2,739.0 L1200.0,741.9 L1203.9,744.8 L1207.8,747.8 L1211.7,750.9 L1215.6,754.1 L1219.5,757.4 L1223.4,760.8 L1227.3,764.2 L1231.2,767.7 L1235.1,771.3 L1239.0,775.0 L1242.9,778.8 L1246.8,782.6 L1250.6,786.5 L1254.5,790.5 L1258.4,794.6 L1262.3,798.7 L1266.2,802.9 L1270.1,807.2 L1274.0,811.6 L1277.9,816.0 L1281.8,820.4 L1285.7,824.8 L1289.6,829.3 L1293.5,833.8 L1297.3,838.3 L1301.2,842.7 L1305.1,847.1 L1309.0,851.5 L1312.9,855.8 L1316.8,860.1 L1320.7,864.2 L1324.6,868.3 L1328.5,872.3 L1332.4,876.3 L1336.3,880.3 L1340.2,884.2 L1344.0,888.0 L1347.9,891.9 L1351.8,895.7 L1355.7,899.6 L1359.6,903.4 L1363.5,907.3 L1367.4,911.1 L1371.3,915.0 L1375.2,918.9 L1379.1,922.8 L1383.0,926.7 L1386.9,930.7 L1390.8,934.6 L1394.6,938.5 L1398.5,942.4 L1402.4,946.2 L1406.3,950.0 L1410.2,953.7 L1414.1,957.4 L1418.0,961.0 L1421.9,964.6 L1425.8,968.2 L1429.7,971.7 L1433.6,975.2 L1437.5,978.6 L1441.3,982.0 L1445.2,985.3 L1449.1,988.5 L1453.0,991.8 L1456.9,994.9 L1460.8,998.0 L1464.7,1001.0 L1468.6,1004.0 L1472.5,1006.9 L1476.4,1009.8 L1480.3,1012.6 L1484.2,1015.3 L1488.0,1017.9 L1491.9,1020.5 L1495.8,1023.0 L1499.7,1025.5 L1503.6,1027.9 L1507.5,1030.2 L1511.4,1032.4 L1515.3,1034.5 L1519.2,1036.6 L1523.1,1038.6 L1527.0,1040.6 L1530.9,1042.5 L1534.8,1044.3 L1538.6,1046.1 L1542.5,1047.8 L1546.4,1049.5 L1550.3,1051.1 L1554.2,1052.7 L1558.1,1054.2 L1562.0,1055.6 L1565.9,1057.1 L1569.8,1058.5 L1573.7,1059.8 L1577.6,1061.1 L1581.5,1062.4 L1585.3,1063.7 L1589.2,1064.9 L1593.1,1066.1" fill="none" stroke="#808080" stroke-width="4.0" stroke-linecap="round" stroke-linejoin="round" stroke-dasharray="0.1 7.5"/>
<path d="M935.4,903.8 L939.3,896.9 L943.2,890.2 L947.1,883.7 L951.0,877.3 L954.9,870.7 L958.8,864.0 L962.6,857.0 L966.5,849.8 L970.4,842.3 L974.3,834.8 L978.2,827.3 L982.1,820.0 L986.0,812.8 L989.9,806.0 L993.8,799.5 L997.7,793.5 L1001.6,787.7 L1005.5,782.2 L1009.3,776.9 L1013.2,771.8 L1017.1,766.8 L1021.0,761.9 L1024.9,756.9 L1028.8,752.1 L1032.7,747.5 L1036.6,743.2 L1040.5,739.0 L1044.4,735.1 L1048.3,731.4 L1052.2,727.9 L1056.0,724.7 L1059.9,721.7 L1063.8,719.0 L1067.7,716.5 L1071.6,714.2 L1075.5,712.1 L1079.4,710.3 L1083.3,708.7 L1087.2,707.3 L1091.1,706.1 L1095.0,705.2 L1098.9,704.4 L1102.8,703.9 L1106.6,703.6 L1110.5,703.5 L1114.4,703.5 L1118.3,703.8 L1122.2,704.2 L1126.1,704.7 L1130.0,705.5 L1133.9,706.3 L1137.8,707.4 L1141.7,708.5 L1145.6,709.8 L1149.5,711.3 L1153.3,712.8 L1157.2,714.5 L1161.1,716.3 L1165.0,718.2 L1168.9,720.2 L1172.8,722.3 L1176.7,724.5 L1180.6,726.8 L1184.5,729.3 L1188.4,731.8 L1192.3,734.4 L1196.2,737.2 L1200.0,740.0 L1203.9,742.9 L1207.8,745.9 L1211.7,749.0 L1215.6,752.2 L1219.5,755.5 L1223.4,758.9 L1227.3,762.3 L1231.2,765.8 L1235.1,769.4 L1239.0,773.1 L1242.9,776.9 L1246.8,780.7 L1250.6,784.7 L1254.5,788.7 L1258.4,792.7 L1262.3,796.9 L1266.2,801.1 L1270.1,805.3 L1274.0,809.7 L1277.9,814.1 L1281.8,818.5 L1285.7,823.0 L1289.6,827.5 L1293.5,831.9 L1297.3,836.4 L1301.2,840.9 L1305.1,845.3 L1309.0,849.7 L1312.9,854.0 L1316.8,858.2 L1320.7,862.4 L1324.6,866.5 L1328.5,870.6 L1332.4,874.6 L1336.3,878.5 L1340.2,882.5 L1344.0,886.4 L1347.9,890.3 L1351.8,894.1 L1355.7,898.0 L1359.6,901.9 L1363.5,905.7 L1367.4,909.6 L1371.3,913.5 L1375.2,917.4 L1379.1,921.4 L1383.0,925.3 L1386.9,929.3 L1390.8,933.2 L1394.6,937.1 L1398.5,941.0 L1402.4,944.8 L1406.3,948.6 L1410.2,952.3 L1414.1,956.0 L1418.0,959.7 L1421.9,963.3 L1425.8,966.9 L1429.7,970.5 L1433.6,973.9 L1437.5,977.4 L1441.3,980.8 L1445.2,984.1 L1449.1,987.4 L1453.0,990.7 L1456.9,993.8 L1460.8,997.0 L1464.7,1000.0 L1468.6,1003.0 L1472.5,1006.0 L1476.4,1008.8 L1480.3,1011.7 L1484.2,1014.4 L1488.0,1017.1 L1491.9,1019.7 L1495.8,1022.2 L1499.7,1024.7 L1503.6,1027.1 L1507.5,1029.4 L1511.4,1031.6 L1515.3,1033.8 L1519.2,1035.9 L1523.1,1038.0 L1527.0,1039.9 L1530.9,1041.8 L1534.8,1043.7 L1538.6,1045.5 L1542.5,1047.2 L1546.4,1048.9 L1550.3,1050.5 L1554.2,1052.1 L1558.1,1053.6 L1562.0,1055.1 L1565.9,1056.6 L1569.8,1058.0 L1573.7,1059.4 L1577.6,1060.7 L1581.5,1062.0 L1585.3,1063.3 L1589.2,1064.5 L1593.1,1065.7" fill="none" stroke="#808080" stroke-width="3.8" stroke-linecap="round" stroke-linejoin="round" stroke-dasharray="12.9 8.9"/>
<path d="M935.4,911.2 L939.3,903.8 L943.2,896.8 L947.1,890.0 L951.0,883.3 L954.9,876.5 L958.8,869.4 L962.6,862.1 L966.5,854.4 L970.4,846.5 L974.3,838.6 L978.2,830.6 L982.1,822.8 L986.0,815.2 L989.9,807.9 L993.8,801.1 L997.7,794.8 L1001.6,788.8 L1005.5,783.0 L1009.3,777.6 L1013.2,772.3 L1017.1,767.1 L1021.0,761.9 L1024.9,756.8 L1028.8,751.7 L1032.7,746.9 L1036.6,742.3 L1040.5,738.0 L1044.4,733.8 L1048.3,729.9 L1052.2,726.3 L1056.0,722.8 L1059.9,719.6 L1063.8,716.6 L1067.7,713.9 L1071.6,711.4 L1075.5,709.1 L1079.4,707.0 L1083.3,705.1 L1087.2,703.5 L1091.1,702.1 L1095.0,701.0 L1098.9,700.0 L1102.8,699.3 L1106.6,698.8 L1110.5,698.4 L1114.4,698.3 L1118.3,698.4 L1122.2,698.6 L1126.1,699.0 L1130.0,699.6 L1133.9,700.3 L1137.8,701.2 L1141.7,702.2 L1145.6,703.4 L1149.5,704.7 L1153.3,706.2 L1157.2,707.7 L1161.1,709.4 L1165.0,711.2 L1168.9,713.1 L1172.8,715.2 L1176.7,717.3 L1180.6,719.6 L1184.5,722.0 L1188.4,724.5 L1192.3,727.0 L1196.2,729.7 L1200.0,732.5 L1203.9,735.4 L1207.8,738.4 L1211.7,741.5 L1215.6,744.7 L1219.5,747.9 L1223.4,751.3 L1227.3,754.7 L1231.2,758.3 L1235.1,761.9 L1239.0,765.6 L1242.9,769.3 L1246.8,773.2 L1250.6,777.1 L1254.5,781.1 L1258.4,785.2 L1262.3,789.3 L1266.2,793.5 L1270.1,797.8 L1274.0,802.2 L1277.9,806.6 L1281.8,811.0 L1285.7,815.5 L1289.6,819.9 L1293.5,824.4 L1297.3,828.9 L1301.2,833.4 L1305.1,837.9 L1309.0,842.3 L1312.9,846.6 L1316.8,850.9 L1320.7,855.2 L1324.6,859.4 L1328.5,863.5 L1332.4,867.6 L1336.3,871.7 L1340.2,875.7 L1344.0,879.7 L1347.9,883.7 L1351.8,887.7 L1355.7,891.7 L1359.6,895.7 L1363.5,899.6 L1367.4,903.6 L1371.3,907.6 L1375.2,911.6 L1379.1,915.6 L1383.0,919.6 L1386.9,923.5 L1390.8,927.5 L1394.6,931.4 L1398.5,935.3 L1402.4,939.2 L1406.3,943.0 L1410.2,946.9 L1414.1,950.6 L1418.0,954.4 L1421.9,958.1 L1425.8,961.8 L1429.7,965.4 L1433.6,969.0 L1437.5,972.6 L1441.3,976.1 L1445.2,979.5 L1449.1,982.9 L1453.0,986.2 L1456.9,989.5 L1460.8,992.8 L1464.7,995.9 L1468.6,999.0 L1472.5,1002.1 L1476.4,1005.1 L1480.3,1008.0 L1484.2,1010.8 L1488.0,1013.6 L1491.9,1016.3 L1495.8,1019.0 L1499.7,1021.5 L1503.6,1024.0 L1507.5,1026.4 L1511.4,1028.7 L1515.3,1031.0 L1519.2,1033.2 L1523.1,1035.3 L1527.0,1037.3 L1530.9,1039.3 L1534.8,1041.2 L1538.6,1043.0 L1542.5,1044.8 L1546.4,1046.6 L1550.3,1048.3 L1554.2,1049.9 L1558.1,1051.5 L1562.0,1053.0 L1565.9,1054.6 L1569.8,1056.0 L1573.7,1057.5 L1577.6,1058.9 L1581.5,1060.2 L1585.3,1061.6 L1589.2,1062.9 L1593.1,1064.2" fill="none" stroke="#d2001e" stroke-width="4.4" stroke-linecap="round" stroke-linejoin="round" stroke-dasharray="12.9 8.9"/>
<path d="M1111.2,729.4 L1103,745" stroke="#000" stroke-width="3.6" stroke-linecap="round" fill="none"/>
<path d="M1097,736 L1113.3,745.7 L1097,755.5 Z" fill="#000"/>
<path d="M556.5,64.7 V200.5 H759.9" fill="none" stroke="#262626" stroke-width="2"/>
<text transform="translate(555.20,207.50) scale(0.965,1.0)" text-anchor="end" class="il">0.95</text>
<text transform="translate(555.20,173.80) scale(0.965,1.0)" text-anchor="end" class="il">1.00</text>
<text transform="translate(555.20,140.10) scale(0.965,1.0)" text-anchor="end" class="il">1.05</text>
<text transform="translate(555.20,106.40) scale(0.965,1.0)" text-anchor="end" class="il">1.10</text>
<text transform="translate(555.20,72.70) scale(0.965,1.0)" text-anchor="end" class="il">1.15</text>
<text transform="translate(556.50,221.30) scale(0.965,1.0)" text-anchor="middle" class="il">0</text>
<text transform="translate(593.30,221.30) scale(0.965,1.0)" text-anchor="middle" class="il">2</text>
<text transform="translate(630.10,221.30) scale(0.965,1.0)" text-anchor="middle" class="il">4</text>
<text transform="translate(666.90,221.30) scale(0.965,1.0)" text-anchor="middle" class="il">6</text>
<text transform="translate(703.70,221.30) scale(0.965,1.0)" text-anchor="middle" class="il">8</text>
<text transform="translate(740.50,221.30) scale(0.965,1.0)" text-anchor="middle" class="il">10</text>
<path d="M556.5,183.6h4.5 M556.5,166.8h8.5 M556.5,150.0h4.5 M556.5,133.1h8.5 M556.5,116.2h4.5 M556.5,99.4h8.5 M556.5,82.5h4.5 M556.5,65.7h8.5 M574.9,200.5v-4.6 M593.3,200.5v-9.0 M611.7,200.5v-4.6 M630.1,200.5v-9.0 M648.5,200.5v-4.6 M666.9,200.5v-9.0 M685.3,200.5v-4.6 M703.7,200.5v-9.0 M722.1,200.5v-4.6 M740.5,200.5v-9.0 M758.9,200.5v-4.6" stroke="#262626" stroke-width="2" fill="none"/>
<text transform="translate(566.30,252.90) scale(0.961,1.0)" class="it">[PEG2000] (×10<tspan dy="-7.4" font-size="16.6">-5</tspan><tspan dy="7.4"> M)</tspan></text>
<text transform="translate(503.50,142.00) rotate(-90) scale(0.961,1.0)" class="it" style="font-size:22.2px">I<tspan dy="6.5" font-size="16.5">0</tspan><tspan dy="-6.5">/I</tspan></text>
<path d="M556.5,167.5 L757.3,171.5" stroke="#111" stroke-width="2.6" stroke-linecap="round" stroke-dasharray="5.3 4.5" fill="none"/>
<path d="M562.2,167.5V172.9M557.8,167.5h9M557.8,172.9h9M568.0,161.1V170.1M563.5,161.1h9M563.5,170.1h9M579.5,161.2V166.6M575.0,161.2h9M575.0,166.6h9" stroke="#111" stroke-width="1.6" fill="none"/>
<circle cx="556.5" cy="166.8" r="4.2" fill="#0a0a0a"/>
<circle cx="559.4" cy="173.2" r="4.2" fill="#0a0a0a"/>
<circle cx="562.2" cy="170.2" r="4.2" fill="#0a0a0a"/>
<circle cx="568.0" cy="165.6" r="4.2" fill="#0a0a0a"/>
<circle cx="579.5" cy="163.9" r="4.2" fill="#0a0a0a"/>
<circle cx="602.5" cy="167.8" r="4.2" fill="#0a0a0a"/>
<circle cx="648.5" cy="166.7" r="4.2" fill="#0a0a0a"/>
<circle cx="740.5" cy="173.3" r="4.2" fill="#0a0a0a"/>
<path d="M1369.6,64.0 V200.3 H1573.0" fill="none" stroke="#262626" stroke-width="2"/>
<text transform="translate(1368.30,207.30) scale(0.965,1.0)" text-anchor="end" class="il">0.95</text>
<text transform="translate(1368.30,173.47) scale(0.965,1.0)" text-anchor="end" class="il">1.00</text>
<text transform="translate(1368.30,139.65) scale(0.965,1.0)" text-anchor="end" class="il">1.05</text>
<text transform="translate(1368.30,105.82) scale(0.965,1.0)" text-anchor="end" class="il">1.10</text>
<text transform="translate(1368.30,72.00) scale(0.965,1.0)" text-anchor="end" class="il">1.15</text>
<text transform="translate(1369.60,221.10) scale(0.965,1.0)" text-anchor="middle" class="il">0</text>
<text transform="translate(1406.40,221.10) scale(0.965,1.0)" text-anchor="middle" class="il">2</text>
<text transform="translate(1443.20,221.10) scale(0.965,1.0)" text-anchor="middle" class="il">4</text>
<text transform="translate(1480.00,221.10) scale(0.965,1.0)" text-anchor="middle" class="il">6</text>
<text transform="translate(1516.80,221.10) scale(0.965,1.0)" text-anchor="middle" class="il">8</text>
<text transform="translate(1553.60,221.10) scale(0.965,1.0)" text-anchor="middle" class="il">10</text>
<path d="M1369.6,183.4h4.5 M1369.6,166.5h8.5 M1369.6,149.6h4.5 M1369.6,132.6h8.5 M1369.6,115.7h4.5 M1369.6,98.8h8.5 M1369.6,81.9h4.5 M1369.6,65.0h8.5 M1388.0,200.3v-4.6 M1406.4,200.3v-9.0 M1424.8,200.3v-4.6 M1443.2,200.3v-9.0 M1461.6,200.3v-4.6 M1480.0,200.3v-9.0 M1498.4,200.3v-4.6 M1516.8,200.3v-9.0 M1535.2,200.3v-4.6 M1553.6,200.3v-9.0 M1572.0,200.3v-4.6" stroke="#262626" stroke-width="2" fill="none"/>
<text transform="translate(1362.20,252.80) scale(0.961,1.0)" class="it">[mPEG-DSPE] (×10<tspan dy="-7.4" font-size="16.6">-5</tspan><tspan dy="7.4"> M)</tspan></text>
<text transform="translate(1316.50,142.00) rotate(-90) scale(0.961,1.0)" class="it" style="font-size:22.2px">I<tspan dy="6.5" font-size="16.5">0</tspan><tspan dy="-6.5">/I</tspan></text>
<path d="M1369.6,162.1 L1570.4,101.5" stroke="#111" stroke-width="2.6" stroke-linecap="round" stroke-dasharray="5.3 4.5" fill="none"/>
<path d="M1372.5,154.3V167.8M1368.0,154.3h9M1368.0,167.8h9M1375.3,155.0V160.4M1370.8,155.0h9M1370.8,160.4h9M1392.6,146.2V158.4M1388.1,146.2h9M1388.1,158.4h9M1461.6,127.4V140.6M1457.1,127.4h9M1457.1,140.6h9M1553.6,102.5V111.3M1549.1,102.5h9M1549.1,111.3h9" stroke="#111" stroke-width="1.6" fill="none"/>
<circle cx="1369.6" cy="166.5" r="4.2" fill="#0a0a0a"/>
<circle cx="1372.5" cy="161.1" r="4.2" fill="#0a0a0a"/>
<circle cx="1375.3" cy="157.7" r="4.2" fill="#0a0a0a"/>
<circle cx="1381.1" cy="160.4" r="4.2" fill="#0a0a0a"/>
<circle cx="1392.6" cy="152.3" r="4.2" fill="#0a0a0a"/>
<circle cx="1415.6" cy="148.2" r="4.2" fill="#0a0a0a"/>
<circle cx="1461.6" cy="134.0" r="4.2" fill="#0a0a0a"/>
<circle cx="1553.6" cy="106.9" r="4.2" fill="#0a0a0a"/>
<path d="M554.5,671.6 V807.8 H758.6" fill="none" stroke="#262626" stroke-width="2"/>
<text transform="translate(553.20,814.80) scale(0.965,1.0)" text-anchor="end" class="il">0.95</text>
<text transform="translate(553.20,781.00) scale(0.965,1.0)" text-anchor="end" class="il">1.00</text>
<text transform="translate(553.20,747.20) scale(0.965,1.0)" text-anchor="end" class="il">1.05</text>
<text transform="translate(553.20,713.40) scale(0.965,1.0)" text-anchor="end" class="il">1.10</text>
<text transform="translate(553.20,679.60) scale(0.965,1.0)" text-anchor="end" class="il">1.15</text>
<text transform="translate(554.50,828.60) scale(0.965,1.0)" text-anchor="middle" class="il">0</text>
<text transform="translate(591.42,828.60) scale(0.965,1.0)" text-anchor="middle" class="il">2</text>
<text transform="translate(628.34,828.60) scale(0.965,1.0)" text-anchor="middle" class="il">4</text>
<text transform="translate(665.26,828.60) scale(0.965,1.0)" text-anchor="middle" class="il">6</text>
<text transform="translate(702.18,828.60) scale(0.965,1.0)" text-anchor="middle" class="il">8</text>
<text transform="translate(739.10,828.60) scale(0.965,1.0)" text-anchor="middle" class="il">10</text>
<path d="M554.5,790.9h4.5 M554.5,774.0h8.5 M554.5,757.1h4.5 M554.5,740.2h8.5 M554.5,723.3h4.5 M554.5,706.4h8.5 M554.5,689.5h4.5 M554.5,672.6h8.5 M573.0,807.8v-4.6 M591.4,807.8v-9.0 M609.9,807.8v-4.6 M628.3,807.8v-9.0 M646.8,807.8v-4.6 M665.3,807.8v-9.0 M683.7,807.8v-4.6 M702.2,807.8v-9.0 M720.6,807.8v-4.6 M739.1,807.8v-9.0 M757.6,807.8v-4.6" stroke="#262626" stroke-width="2" fill="none"/>
<text transform="translate(558.40,860.60) scale(0.961,1.0)" class="it">[mPEG-LA] (×10<tspan dy="-7.4" font-size="16.6">-5</tspan><tspan dy="7.4"> M)</tspan></text>
<text transform="translate(502.00,749.00) rotate(-90) scale(0.961,1.0)" class="it" style="font-size:22.2px">I<tspan dy="6.5" font-size="16.5">0</tspan><tspan dy="-6.5">/I</tspan></text>
<path d="M554.5,776.0 L755.9,776.0" stroke="#111" stroke-width="2.6" stroke-linecap="round" stroke-dasharray="5.3 4.5" fill="none"/>
<path d="M560.3,774.0V779.4M555.8,774.0h9M555.8,779.4h9M566.0,767.3V783.9M561.5,767.3h9M561.5,783.9h9M577.6,771.1V785.6M573.1,771.1h9M573.1,785.6h9M600.6,778.7V790.1M596.1,778.7h9M596.1,790.1h9M646.8,773.0V789.2M642.3,773.0h9M642.3,789.2h9M739.1,761.4V780.8M734.6,761.4h9M734.6,780.8h9" stroke="#111" stroke-width="1.6" fill="none"/>
<circle cx="554.5" cy="774.0" r="4.2" fill="#0a0a0a"/>
<circle cx="557.4" cy="768.9" r="4.2" fill="#0a0a0a"/>
<circle cx="560.3" cy="776.7" r="4.2" fill="#0a0a0a"/>
<circle cx="566.0" cy="775.6" r="4.2" fill="#0a0a0a"/>
<circle cx="577.6" cy="778.3" r="4.2" fill="#0a0a0a"/>
<circle cx="600.6" cy="784.4" r="4.2" fill="#0a0a0a"/>
<circle cx="646.8" cy="781.1" r="4.2" fill="#0a0a0a"/>
<circle cx="739.1" cy="771.1" r="4.2" fill="#0a0a0a"/>
<path d="M1367.8,673.3 V809.4 H1571.8" fill="none" stroke="#262626" stroke-width="2"/>
<text transform="translate(1366.50,816.40) scale(0.965,1.0)" text-anchor="end" class="il">0.95</text>
<text transform="translate(1366.50,782.62) scale(0.965,1.0)" text-anchor="end" class="il">1.00</text>
<text transform="translate(1366.50,748.85) scale(0.965,1.0)" text-anchor="end" class="il">1.05</text>
<text transform="translate(1366.50,715.07) scale(0.965,1.0)" text-anchor="end" class="il">1.10</text>
<text transform="translate(1366.50,681.30) scale(0.965,1.0)" text-anchor="end" class="il">1.15</text>
<text transform="translate(1367.80,830.20) scale(0.965,1.0)" text-anchor="middle" class="il">0.0</text>
<text transform="translate(1401.63,830.20) scale(0.965,1.0)" text-anchor="middle" class="il">0.5</text>
<text transform="translate(1435.47,830.20) scale(0.965,1.0)" text-anchor="middle" class="il">1.0</text>
<text transform="translate(1469.30,830.20) scale(0.965,1.0)" text-anchor="middle" class="il">1.5</text>
<text transform="translate(1503.14,830.20) scale(0.965,1.0)" text-anchor="middle" class="il">2.0</text>
<text transform="translate(1536.97,830.20) scale(0.965,1.0)" text-anchor="middle" class="il">2.5</text>
<text transform="translate(1570.81,830.20) scale(0.965,1.0)" text-anchor="middle" class="il">3.0</text>
<path d="M1367.8,792.5h4.5 M1367.8,775.6h8.5 M1367.8,758.7h4.5 M1367.8,741.8h8.5 M1367.8,725.0h4.5 M1367.8,708.1h8.5 M1367.8,691.2h4.5 M1367.8,674.3h8.5 M1384.7,809.4v-4.6 M1401.6,809.4v-9.0 M1418.6,809.4v-4.6 M1435.5,809.4v-9.0 M1452.4,809.4v-4.6 M1469.3,809.4v-9.0 M1486.2,809.4v-4.6 M1503.1,809.4v-9.0 M1520.1,809.4v-4.6 M1537.0,809.4v-9.0 M1553.9,809.4v-4.6 M1570.8,809.4v-9.0" stroke="#262626" stroke-width="2" fill="none"/>
<text transform="translate(1372.30,861.80) scale(0.961,1.0)" class="it">[mPEG-CL] (×10<tspan dy="-7.4" font-size="16.6">-5</tspan><tspan dy="7.4"> M)</tspan></text>
<text transform="translate(1315.50,750.20) rotate(-90) scale(0.961,1.0)" class="it" style="font-size:22.2px">I<tspan dy="6.5" font-size="16.5">0</tspan><tspan dy="-6.5">/I</tspan></text>
<path d="M1367.8,768.9 L1569.2,718.8" stroke="#111" stroke-width="2.6" stroke-linecap="round" stroke-dasharray="5.3 4.5" fill="none"/>
<path d="M1378.4,763.5V777.0M1373.9,763.5h9M1373.9,777.0h9M1388.9,758.3V771.3M1384.4,758.3h9M1384.4,771.3h9M1410.1,740.5V762.1M1405.6,740.5h9M1405.6,762.1h9M1452.4,728.0V754.3M1447.9,728.0h9M1447.9,754.3h9M1537.0,721.9V742.9M1532.5,721.9h9M1532.5,742.9h9" stroke="#111" stroke-width="1.6" fill="none"/>
<circle cx="1367.8" cy="775.6" r="4.2" fill="#0a0a0a"/>
<circle cx="1378.4" cy="770.2" r="4.2" fill="#0a0a0a"/>
<circle cx="1388.9" cy="764.8" r="4.2" fill="#0a0a0a"/>
<circle cx="1410.1" cy="751.3" r="4.2" fill="#0a0a0a"/>
<circle cx="1452.4" cy="741.2" r="4.2" fill="#0a0a0a"/>
<circle cx="1537.0" cy="732.4" r="4.2" fill="#0a0a0a"/>
<text transform="translate(1678.80,539.40) scale(0.955,1.0)" class="lg" style="font-weight:bold;font-size:24.2px">[Polymer]</text>
<path d="M1623.3,565.1 H1670" fill="none" stroke="#d2001e" stroke-width="4.4" stroke-linecap="round" stroke-linejoin="round" stroke-dasharray="12.9 8.9"/>
<text transform="translate(1695.80,573.90) scale(0.935,1.0)" class="lg">0 µM</text>
<path d="M1623.3,598.9 H1670" fill="none" stroke="#000" stroke-width="3.8" stroke-linecap="round" stroke-linejoin="round"/>
<text transform="translate(1695.80,607.70) scale(0.935,1.0)" class="lg">100 µM</text>
<path d="M1623.3,632.7 H1670" fill="none" stroke="#000" stroke-width="3.8" stroke-linecap="round" stroke-linejoin="round" stroke-dasharray="12.9 8.9"/>
<text transform="translate(1695.80,641.50) scale(0.935,1.0)" class="lg">50 µM</text>
<path d="M1623.3,666.5 H1670" fill="none" stroke="#000" stroke-width="4.0" stroke-linecap="round" stroke-linejoin="round" stroke-dasharray="0.1 7.5"/>
<text transform="translate(1695.80,675.30) scale(0.935,1.0)" class="lg">25 µM</text>
<path d="M1623.3,700.3 H1670" fill="none" stroke="#000" stroke-width="3.8" stroke-linecap="round" stroke-linejoin="round" stroke-dasharray="12.9 6.5 0.1 6.5"/>
<text transform="translate(1695.80,709.10) scale(0.935,1.0)" class="lg">12.5 µM</text>
<path d="M1623.3,734.1 H1670" fill="none" stroke="#808080" stroke-width="3.8" stroke-linecap="round" stroke-linejoin="round"/>
<text transform="translate(1695.80,742.90) scale(0.935,1.0)" class="lg">6.25 µM</text>
<path d="M1623.3,767.9 H1670" fill="none" stroke="#808080" stroke-width="3.8" stroke-linecap="round" stroke-linejoin="round" stroke-dasharray="12.9 8.9"/>
<text transform="translate(1695.80,776.70) scale(0.935,1.0)" class="lg">3.125 µM</text>
<path d="M1623.3,801.7 H1670" fill="none" stroke="#808080" stroke-width="4.0" stroke-linecap="round" stroke-linejoin="round" stroke-dasharray="0.1 7.5"/>
<text transform="translate(1695.80,810.50) scale(0.935,1.0)" class="lg">1.5625 µM</text>
</svg></body></html>
